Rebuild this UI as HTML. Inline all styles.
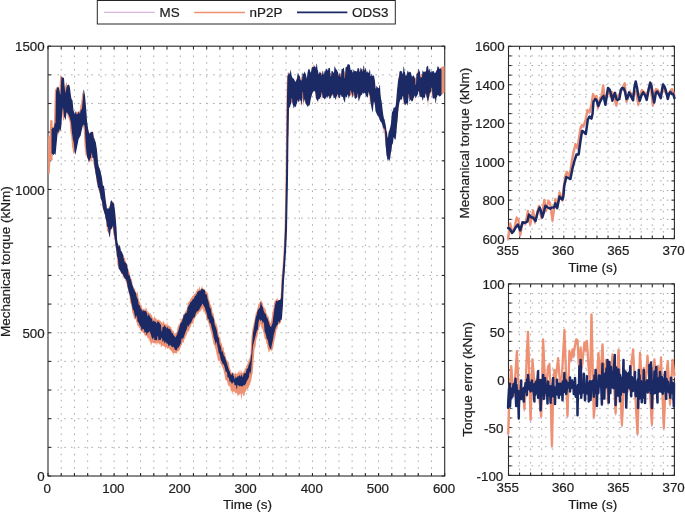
<!DOCTYPE html>
<html><head><meta charset="utf-8"><style>
html,body{margin:0;padding:0;background:#fff;width:685px;height:512px;overflow:hidden}
svg{display:block;will-change:transform}
text{font-family:"Liberation Sans", sans-serif;fill:#1e1e1e;stroke:#1e1e1e;stroke-width:0.22px}
</style></head><body>
<svg width="685" height="512" viewBox="0 0 685 512">
<rect width="685" height="512" fill="#fff"/>
<g stroke="#acacac" stroke-width="1" stroke-dasharray="1.6 5.150" stroke-dashoffset="4.250" fill="none"><line x1="61.22" y1="46.2" x2="61.22" y2="476.0"/><line x1="74.45" y1="46.2" x2="74.45" y2="476.0"/><line x1="87.67" y1="46.2" x2="87.67" y2="476.0"/><line x1="100.89" y1="46.2" x2="100.89" y2="476.0"/><line x1="114.12" y1="46.2" x2="114.12" y2="476.0"/><line x1="127.34" y1="46.2" x2="127.34" y2="476.0"/><line x1="140.56" y1="46.2" x2="140.56" y2="476.0"/><line x1="153.79" y1="46.2" x2="153.79" y2="476.0"/><line x1="167.01" y1="46.2" x2="167.01" y2="476.0"/><line x1="180.23" y1="46.2" x2="180.23" y2="476.0"/><line x1="193.46" y1="46.2" x2="193.46" y2="476.0"/><line x1="206.68" y1="46.2" x2="206.68" y2="476.0"/><line x1="219.90" y1="46.2" x2="219.90" y2="476.0"/><line x1="233.13" y1="46.2" x2="233.13" y2="476.0"/><line x1="246.35" y1="46.2" x2="246.35" y2="476.0"/><line x1="259.57" y1="46.2" x2="259.57" y2="476.0"/><line x1="272.80" y1="46.2" x2="272.80" y2="476.0"/><line x1="286.02" y1="46.2" x2="286.02" y2="476.0"/><line x1="299.24" y1="46.2" x2="299.24" y2="476.0"/><line x1="312.47" y1="46.2" x2="312.47" y2="476.0"/><line x1="325.69" y1="46.2" x2="325.69" y2="476.0"/><line x1="338.91" y1="46.2" x2="338.91" y2="476.0"/><line x1="352.14" y1="46.2" x2="352.14" y2="476.0"/><line x1="365.36" y1="46.2" x2="365.36" y2="476.0"/><line x1="378.58" y1="46.2" x2="378.58" y2="476.0"/><line x1="391.81" y1="46.2" x2="391.81" y2="476.0"/><line x1="405.03" y1="46.2" x2="405.03" y2="476.0"/><line x1="418.25" y1="46.2" x2="418.25" y2="476.0"/><line x1="431.48" y1="46.2" x2="431.48" y2="476.0"/></g><g stroke="#acacac" stroke-width="1" stroke-dasharray="1.6 5.165" stroke-dashoffset="4.065" fill="none"><line x1="48.0" y1="447.35" x2="444.7" y2="447.35"/><line x1="48.0" y1="418.69" x2="444.7" y2="418.69"/><line x1="48.0" y1="390.04" x2="444.7" y2="390.04"/><line x1="48.0" y1="361.39" x2="444.7" y2="361.39"/><line x1="48.0" y1="332.73" x2="444.7" y2="332.73"/><line x1="48.0" y1="304.08" x2="444.7" y2="304.08"/><line x1="48.0" y1="275.43" x2="444.7" y2="275.43"/><line x1="48.0" y1="246.77" x2="444.7" y2="246.77"/><line x1="48.0" y1="218.12" x2="444.7" y2="218.12"/><line x1="48.0" y1="189.47" x2="444.7" y2="189.47"/><line x1="48.0" y1="160.81" x2="444.7" y2="160.81"/><line x1="48.0" y1="132.16" x2="444.7" y2="132.16"/><line x1="48.0" y1="103.51" x2="444.7" y2="103.51"/><line x1="48.0" y1="74.85" x2="444.7" y2="74.85"/></g>
<g stroke="#acacac" stroke-width="1" stroke-dasharray="1.6 5.150" stroke-dashoffset="4.250" fill="none"><line x1="519.56" y1="46.3" x2="519.56" y2="238.6"/><line x1="530.62" y1="46.3" x2="530.62" y2="238.6"/><line x1="541.68" y1="46.3" x2="541.68" y2="238.6"/><line x1="552.74" y1="46.3" x2="552.74" y2="238.6"/><line x1="563.80" y1="46.3" x2="563.80" y2="238.6"/><line x1="574.86" y1="46.3" x2="574.86" y2="238.6"/><line x1="585.92" y1="46.3" x2="585.92" y2="238.6"/><line x1="596.98" y1="46.3" x2="596.98" y2="238.6"/><line x1="608.04" y1="46.3" x2="608.04" y2="238.6"/><line x1="619.10" y1="46.3" x2="619.10" y2="238.6"/><line x1="630.16" y1="46.3" x2="630.16" y2="238.6"/><line x1="641.22" y1="46.3" x2="641.22" y2="238.6"/><line x1="652.28" y1="46.3" x2="652.28" y2="238.6"/><line x1="663.34" y1="46.3" x2="663.34" y2="238.6"/></g><g stroke="#acacac" stroke-width="1" stroke-dasharray="1.6 5.165" stroke-dashoffset="4.065" fill="none"><line x1="508.5" y1="228.98" x2="674.4" y2="228.98"/><line x1="508.5" y1="219.37" x2="674.4" y2="219.37"/><line x1="508.5" y1="209.75" x2="674.4" y2="209.75"/><line x1="508.5" y1="200.14" x2="674.4" y2="200.14"/><line x1="508.5" y1="190.52" x2="674.4" y2="190.52"/><line x1="508.5" y1="180.91" x2="674.4" y2="180.91"/><line x1="508.5" y1="171.29" x2="674.4" y2="171.29"/><line x1="508.5" y1="161.68" x2="674.4" y2="161.68"/><line x1="508.5" y1="152.06" x2="674.4" y2="152.06"/><line x1="508.5" y1="142.45" x2="674.4" y2="142.45"/><line x1="508.5" y1="132.83" x2="674.4" y2="132.83"/><line x1="508.5" y1="123.22" x2="674.4" y2="123.22"/><line x1="508.5" y1="113.60" x2="674.4" y2="113.60"/><line x1="508.5" y1="103.99" x2="674.4" y2="103.99"/><line x1="508.5" y1="94.38" x2="674.4" y2="94.38"/><line x1="508.5" y1="84.76" x2="674.4" y2="84.76"/><line x1="508.5" y1="75.14" x2="674.4" y2="75.14"/><line x1="508.5" y1="65.53" x2="674.4" y2="65.53"/><line x1="508.5" y1="55.91" x2="674.4" y2="55.91"/></g>
<g stroke="#acacac" stroke-width="1" stroke-dasharray="1.6 5.150" stroke-dashoffset="4.250" fill="none"><line x1="519.56" y1="283.9" x2="519.56" y2="475.4"/><line x1="530.62" y1="283.9" x2="530.62" y2="475.4"/><line x1="541.68" y1="283.9" x2="541.68" y2="475.4"/><line x1="552.74" y1="283.9" x2="552.74" y2="475.4"/><line x1="563.80" y1="283.9" x2="563.80" y2="475.4"/><line x1="574.86" y1="283.9" x2="574.86" y2="475.4"/><line x1="585.92" y1="283.9" x2="585.92" y2="475.4"/><line x1="596.98" y1="283.9" x2="596.98" y2="475.4"/><line x1="608.04" y1="283.9" x2="608.04" y2="475.4"/><line x1="619.10" y1="283.9" x2="619.10" y2="475.4"/><line x1="630.16" y1="283.9" x2="630.16" y2="475.4"/><line x1="641.22" y1="283.9" x2="641.22" y2="475.4"/><line x1="652.28" y1="283.9" x2="652.28" y2="475.4"/><line x1="663.34" y1="283.9" x2="663.34" y2="475.4"/></g><g stroke="#acacac" stroke-width="1" stroke-dasharray="1.6 5.165" stroke-dashoffset="4.065" fill="none"><line x1="508.5" y1="465.82" x2="674.4" y2="465.82"/><line x1="508.5" y1="456.25" x2="674.4" y2="456.25"/><line x1="508.5" y1="446.67" x2="674.4" y2="446.67"/><line x1="508.5" y1="437.10" x2="674.4" y2="437.10"/><line x1="508.5" y1="427.52" x2="674.4" y2="427.52"/><line x1="508.5" y1="417.95" x2="674.4" y2="417.95"/><line x1="508.5" y1="408.38" x2="674.4" y2="408.38"/><line x1="508.5" y1="398.80" x2="674.4" y2="398.80"/><line x1="508.5" y1="389.22" x2="674.4" y2="389.22"/><line x1="508.5" y1="379.65" x2="674.4" y2="379.65"/><line x1="508.5" y1="370.07" x2="674.4" y2="370.07"/><line x1="508.5" y1="360.50" x2="674.4" y2="360.50"/><line x1="508.5" y1="350.92" x2="674.4" y2="350.92"/><line x1="508.5" y1="341.35" x2="674.4" y2="341.35"/><line x1="508.5" y1="331.77" x2="674.4" y2="331.77"/><line x1="508.5" y1="322.20" x2="674.4" y2="322.20"/><line x1="508.5" y1="312.62" x2="674.4" y2="312.62"/><line x1="508.5" y1="303.05" x2="674.4" y2="303.05"/><line x1="508.5" y1="293.47" x2="674.4" y2="293.47"/></g>
<g stroke="#2a2a2a" stroke-width="1.1" fill="none"><rect x="48.0" y="46.2" width="396.70" height="429.80" fill="none"/><line x1="48.00" y1="476.0" x2="48.00" y2="473.0"/><line x1="48.00" y1="46.2" x2="48.00" y2="49.2"/><line x1="61.22" y1="476.0" x2="61.22" y2="473.0"/><line x1="61.22" y1="46.2" x2="61.22" y2="49.2"/><line x1="74.45" y1="476.0" x2="74.45" y2="473.0"/><line x1="74.45" y1="46.2" x2="74.45" y2="49.2"/><line x1="87.67" y1="476.0" x2="87.67" y2="473.0"/><line x1="87.67" y1="46.2" x2="87.67" y2="49.2"/><line x1="100.89" y1="476.0" x2="100.89" y2="473.0"/><line x1="100.89" y1="46.2" x2="100.89" y2="49.2"/><line x1="114.12" y1="476.0" x2="114.12" y2="473.0"/><line x1="114.12" y1="46.2" x2="114.12" y2="49.2"/><line x1="127.34" y1="476.0" x2="127.34" y2="473.0"/><line x1="127.34" y1="46.2" x2="127.34" y2="49.2"/><line x1="140.56" y1="476.0" x2="140.56" y2="473.0"/><line x1="140.56" y1="46.2" x2="140.56" y2="49.2"/><line x1="153.79" y1="476.0" x2="153.79" y2="473.0"/><line x1="153.79" y1="46.2" x2="153.79" y2="49.2"/><line x1="167.01" y1="476.0" x2="167.01" y2="473.0"/><line x1="167.01" y1="46.2" x2="167.01" y2="49.2"/><line x1="180.23" y1="476.0" x2="180.23" y2="473.0"/><line x1="180.23" y1="46.2" x2="180.23" y2="49.2"/><line x1="193.46" y1="476.0" x2="193.46" y2="473.0"/><line x1="193.46" y1="46.2" x2="193.46" y2="49.2"/><line x1="206.68" y1="476.0" x2="206.68" y2="473.0"/><line x1="206.68" y1="46.2" x2="206.68" y2="49.2"/><line x1="219.90" y1="476.0" x2="219.90" y2="473.0"/><line x1="219.90" y1="46.2" x2="219.90" y2="49.2"/><line x1="233.13" y1="476.0" x2="233.13" y2="473.0"/><line x1="233.13" y1="46.2" x2="233.13" y2="49.2"/><line x1="246.35" y1="476.0" x2="246.35" y2="473.0"/><line x1="246.35" y1="46.2" x2="246.35" y2="49.2"/><line x1="259.57" y1="476.0" x2="259.57" y2="473.0"/><line x1="259.57" y1="46.2" x2="259.57" y2="49.2"/><line x1="272.80" y1="476.0" x2="272.80" y2="473.0"/><line x1="272.80" y1="46.2" x2="272.80" y2="49.2"/><line x1="286.02" y1="476.0" x2="286.02" y2="473.0"/><line x1="286.02" y1="46.2" x2="286.02" y2="49.2"/><line x1="299.24" y1="476.0" x2="299.24" y2="473.0"/><line x1="299.24" y1="46.2" x2="299.24" y2="49.2"/><line x1="312.47" y1="476.0" x2="312.47" y2="473.0"/><line x1="312.47" y1="46.2" x2="312.47" y2="49.2"/><line x1="325.69" y1="476.0" x2="325.69" y2="473.0"/><line x1="325.69" y1="46.2" x2="325.69" y2="49.2"/><line x1="338.91" y1="476.0" x2="338.91" y2="473.0"/><line x1="338.91" y1="46.2" x2="338.91" y2="49.2"/><line x1="352.14" y1="476.0" x2="352.14" y2="473.0"/><line x1="352.14" y1="46.2" x2="352.14" y2="49.2"/><line x1="365.36" y1="476.0" x2="365.36" y2="473.0"/><line x1="365.36" y1="46.2" x2="365.36" y2="49.2"/><line x1="378.58" y1="476.0" x2="378.58" y2="473.0"/><line x1="378.58" y1="46.2" x2="378.58" y2="49.2"/><line x1="391.81" y1="476.0" x2="391.81" y2="473.0"/><line x1="391.81" y1="46.2" x2="391.81" y2="49.2"/><line x1="405.03" y1="476.0" x2="405.03" y2="473.0"/><line x1="405.03" y1="46.2" x2="405.03" y2="49.2"/><line x1="418.25" y1="476.0" x2="418.25" y2="473.0"/><line x1="418.25" y1="46.2" x2="418.25" y2="49.2"/><line x1="431.48" y1="476.0" x2="431.48" y2="473.0"/><line x1="431.48" y1="46.2" x2="431.48" y2="49.2"/><line x1="444.70" y1="476.0" x2="444.70" y2="473.0"/><line x1="444.70" y1="46.2" x2="444.70" y2="49.2"/><line x1="48.0" y1="476.00" x2="51.0" y2="476.00"/><line x1="444.7" y1="476.00" x2="441.7" y2="476.00"/><line x1="48.0" y1="447.35" x2="51.0" y2="447.35"/><line x1="444.7" y1="447.35" x2="441.7" y2="447.35"/><line x1="48.0" y1="418.69" x2="51.0" y2="418.69"/><line x1="444.7" y1="418.69" x2="441.7" y2="418.69"/><line x1="48.0" y1="390.04" x2="51.0" y2="390.04"/><line x1="444.7" y1="390.04" x2="441.7" y2="390.04"/><line x1="48.0" y1="361.39" x2="51.0" y2="361.39"/><line x1="444.7" y1="361.39" x2="441.7" y2="361.39"/><line x1="48.0" y1="332.73" x2="51.0" y2="332.73"/><line x1="444.7" y1="332.73" x2="441.7" y2="332.73"/><line x1="48.0" y1="304.08" x2="51.0" y2="304.08"/><line x1="444.7" y1="304.08" x2="441.7" y2="304.08"/><line x1="48.0" y1="275.43" x2="51.0" y2="275.43"/><line x1="444.7" y1="275.43" x2="441.7" y2="275.43"/><line x1="48.0" y1="246.77" x2="51.0" y2="246.77"/><line x1="444.7" y1="246.77" x2="441.7" y2="246.77"/><line x1="48.0" y1="218.12" x2="51.0" y2="218.12"/><line x1="444.7" y1="218.12" x2="441.7" y2="218.12"/><line x1="48.0" y1="189.47" x2="51.0" y2="189.47"/><line x1="444.7" y1="189.47" x2="441.7" y2="189.47"/><line x1="48.0" y1="160.81" x2="51.0" y2="160.81"/><line x1="444.7" y1="160.81" x2="441.7" y2="160.81"/><line x1="48.0" y1="132.16" x2="51.0" y2="132.16"/><line x1="444.7" y1="132.16" x2="441.7" y2="132.16"/><line x1="48.0" y1="103.51" x2="51.0" y2="103.51"/><line x1="444.7" y1="103.51" x2="441.7" y2="103.51"/><line x1="48.0" y1="74.85" x2="51.0" y2="74.85"/><line x1="444.7" y1="74.85" x2="441.7" y2="74.85"/><line x1="48.0" y1="46.20" x2="51.0" y2="46.20"/><line x1="444.7" y1="46.20" x2="441.7" y2="46.20"/></g>
<g stroke="#2a2a2a" stroke-width="1.1" fill="none"><rect x="508.5" y="46.3" width="165.90" height="192.30" fill="none"/><line x1="508.50" y1="238.6" x2="508.50" y2="235.6"/><line x1="508.50" y1="46.3" x2="508.50" y2="49.3"/><line x1="519.56" y1="238.6" x2="519.56" y2="235.6"/><line x1="519.56" y1="46.3" x2="519.56" y2="49.3"/><line x1="530.62" y1="238.6" x2="530.62" y2="235.6"/><line x1="530.62" y1="46.3" x2="530.62" y2="49.3"/><line x1="541.68" y1="238.6" x2="541.68" y2="235.6"/><line x1="541.68" y1="46.3" x2="541.68" y2="49.3"/><line x1="552.74" y1="238.6" x2="552.74" y2="235.6"/><line x1="552.74" y1="46.3" x2="552.74" y2="49.3"/><line x1="563.80" y1="238.6" x2="563.80" y2="235.6"/><line x1="563.80" y1="46.3" x2="563.80" y2="49.3"/><line x1="574.86" y1="238.6" x2="574.86" y2="235.6"/><line x1="574.86" y1="46.3" x2="574.86" y2="49.3"/><line x1="585.92" y1="238.6" x2="585.92" y2="235.6"/><line x1="585.92" y1="46.3" x2="585.92" y2="49.3"/><line x1="596.98" y1="238.6" x2="596.98" y2="235.6"/><line x1="596.98" y1="46.3" x2="596.98" y2="49.3"/><line x1="608.04" y1="238.6" x2="608.04" y2="235.6"/><line x1="608.04" y1="46.3" x2="608.04" y2="49.3"/><line x1="619.10" y1="238.6" x2="619.10" y2="235.6"/><line x1="619.10" y1="46.3" x2="619.10" y2="49.3"/><line x1="630.16" y1="238.6" x2="630.16" y2="235.6"/><line x1="630.16" y1="46.3" x2="630.16" y2="49.3"/><line x1="641.22" y1="238.6" x2="641.22" y2="235.6"/><line x1="641.22" y1="46.3" x2="641.22" y2="49.3"/><line x1="652.28" y1="238.6" x2="652.28" y2="235.6"/><line x1="652.28" y1="46.3" x2="652.28" y2="49.3"/><line x1="663.34" y1="238.6" x2="663.34" y2="235.6"/><line x1="663.34" y1="46.3" x2="663.34" y2="49.3"/><line x1="674.40" y1="238.6" x2="674.40" y2="235.6"/><line x1="674.40" y1="46.3" x2="674.40" y2="49.3"/><line x1="508.5" y1="238.60" x2="511.5" y2="238.60"/><line x1="674.4" y1="238.60" x2="671.4" y2="238.60"/><line x1="508.5" y1="228.98" x2="511.5" y2="228.98"/><line x1="674.4" y1="228.98" x2="671.4" y2="228.98"/><line x1="508.5" y1="219.37" x2="511.5" y2="219.37"/><line x1="674.4" y1="219.37" x2="671.4" y2="219.37"/><line x1="508.5" y1="209.75" x2="511.5" y2="209.75"/><line x1="674.4" y1="209.75" x2="671.4" y2="209.75"/><line x1="508.5" y1="200.14" x2="511.5" y2="200.14"/><line x1="674.4" y1="200.14" x2="671.4" y2="200.14"/><line x1="508.5" y1="190.52" x2="511.5" y2="190.52"/><line x1="674.4" y1="190.52" x2="671.4" y2="190.52"/><line x1="508.5" y1="180.91" x2="511.5" y2="180.91"/><line x1="674.4" y1="180.91" x2="671.4" y2="180.91"/><line x1="508.5" y1="171.29" x2="511.5" y2="171.29"/><line x1="674.4" y1="171.29" x2="671.4" y2="171.29"/><line x1="508.5" y1="161.68" x2="511.5" y2="161.68"/><line x1="674.4" y1="161.68" x2="671.4" y2="161.68"/><line x1="508.5" y1="152.06" x2="511.5" y2="152.06"/><line x1="674.4" y1="152.06" x2="671.4" y2="152.06"/><line x1="508.5" y1="142.45" x2="511.5" y2="142.45"/><line x1="674.4" y1="142.45" x2="671.4" y2="142.45"/><line x1="508.5" y1="132.83" x2="511.5" y2="132.83"/><line x1="674.4" y1="132.83" x2="671.4" y2="132.83"/><line x1="508.5" y1="123.22" x2="511.5" y2="123.22"/><line x1="674.4" y1="123.22" x2="671.4" y2="123.22"/><line x1="508.5" y1="113.60" x2="511.5" y2="113.60"/><line x1="674.4" y1="113.60" x2="671.4" y2="113.60"/><line x1="508.5" y1="103.99" x2="511.5" y2="103.99"/><line x1="674.4" y1="103.99" x2="671.4" y2="103.99"/><line x1="508.5" y1="94.38" x2="511.5" y2="94.38"/><line x1="674.4" y1="94.38" x2="671.4" y2="94.38"/><line x1="508.5" y1="84.76" x2="511.5" y2="84.76"/><line x1="674.4" y1="84.76" x2="671.4" y2="84.76"/><line x1="508.5" y1="75.14" x2="511.5" y2="75.14"/><line x1="674.4" y1="75.14" x2="671.4" y2="75.14"/><line x1="508.5" y1="65.53" x2="511.5" y2="65.53"/><line x1="674.4" y1="65.53" x2="671.4" y2="65.53"/><line x1="508.5" y1="55.91" x2="511.5" y2="55.91"/><line x1="674.4" y1="55.91" x2="671.4" y2="55.91"/><line x1="508.5" y1="46.30" x2="511.5" y2="46.30"/><line x1="674.4" y1="46.30" x2="671.4" y2="46.30"/></g>
<g stroke="#2a2a2a" stroke-width="1.1" fill="none"><rect x="508.5" y="283.9" width="165.90" height="191.50" fill="none"/><line x1="508.50" y1="475.4" x2="508.50" y2="472.4"/><line x1="508.50" y1="283.9" x2="508.50" y2="286.9"/><line x1="519.56" y1="475.4" x2="519.56" y2="472.4"/><line x1="519.56" y1="283.9" x2="519.56" y2="286.9"/><line x1="530.62" y1="475.4" x2="530.62" y2="472.4"/><line x1="530.62" y1="283.9" x2="530.62" y2="286.9"/><line x1="541.68" y1="475.4" x2="541.68" y2="472.4"/><line x1="541.68" y1="283.9" x2="541.68" y2="286.9"/><line x1="552.74" y1="475.4" x2="552.74" y2="472.4"/><line x1="552.74" y1="283.9" x2="552.74" y2="286.9"/><line x1="563.80" y1="475.4" x2="563.80" y2="472.4"/><line x1="563.80" y1="283.9" x2="563.80" y2="286.9"/><line x1="574.86" y1="475.4" x2="574.86" y2="472.4"/><line x1="574.86" y1="283.9" x2="574.86" y2="286.9"/><line x1="585.92" y1="475.4" x2="585.92" y2="472.4"/><line x1="585.92" y1="283.9" x2="585.92" y2="286.9"/><line x1="596.98" y1="475.4" x2="596.98" y2="472.4"/><line x1="596.98" y1="283.9" x2="596.98" y2="286.9"/><line x1="608.04" y1="475.4" x2="608.04" y2="472.4"/><line x1="608.04" y1="283.9" x2="608.04" y2="286.9"/><line x1="619.10" y1="475.4" x2="619.10" y2="472.4"/><line x1="619.10" y1="283.9" x2="619.10" y2="286.9"/><line x1="630.16" y1="475.4" x2="630.16" y2="472.4"/><line x1="630.16" y1="283.9" x2="630.16" y2="286.9"/><line x1="641.22" y1="475.4" x2="641.22" y2="472.4"/><line x1="641.22" y1="283.9" x2="641.22" y2="286.9"/><line x1="652.28" y1="475.4" x2="652.28" y2="472.4"/><line x1="652.28" y1="283.9" x2="652.28" y2="286.9"/><line x1="663.34" y1="475.4" x2="663.34" y2="472.4"/><line x1="663.34" y1="283.9" x2="663.34" y2="286.9"/><line x1="674.40" y1="475.4" x2="674.40" y2="472.4"/><line x1="674.40" y1="283.9" x2="674.40" y2="286.9"/><line x1="508.5" y1="475.40" x2="511.5" y2="475.40"/><line x1="674.4" y1="475.40" x2="671.4" y2="475.40"/><line x1="508.5" y1="465.82" x2="511.5" y2="465.82"/><line x1="674.4" y1="465.82" x2="671.4" y2="465.82"/><line x1="508.5" y1="456.25" x2="511.5" y2="456.25"/><line x1="674.4" y1="456.25" x2="671.4" y2="456.25"/><line x1="508.5" y1="446.67" x2="511.5" y2="446.67"/><line x1="674.4" y1="446.67" x2="671.4" y2="446.67"/><line x1="508.5" y1="437.10" x2="511.5" y2="437.10"/><line x1="674.4" y1="437.10" x2="671.4" y2="437.10"/><line x1="508.5" y1="427.52" x2="511.5" y2="427.52"/><line x1="674.4" y1="427.52" x2="671.4" y2="427.52"/><line x1="508.5" y1="417.95" x2="511.5" y2="417.95"/><line x1="674.4" y1="417.95" x2="671.4" y2="417.95"/><line x1="508.5" y1="408.38" x2="511.5" y2="408.38"/><line x1="674.4" y1="408.38" x2="671.4" y2="408.38"/><line x1="508.5" y1="398.80" x2="511.5" y2="398.80"/><line x1="674.4" y1="398.80" x2="671.4" y2="398.80"/><line x1="508.5" y1="389.22" x2="511.5" y2="389.22"/><line x1="674.4" y1="389.22" x2="671.4" y2="389.22"/><line x1="508.5" y1="379.65" x2="511.5" y2="379.65"/><line x1="674.4" y1="379.65" x2="671.4" y2="379.65"/><line x1="508.5" y1="370.07" x2="511.5" y2="370.07"/><line x1="674.4" y1="370.07" x2="671.4" y2="370.07"/><line x1="508.5" y1="360.50" x2="511.5" y2="360.50"/><line x1="674.4" y1="360.50" x2="671.4" y2="360.50"/><line x1="508.5" y1="350.92" x2="511.5" y2="350.92"/><line x1="674.4" y1="350.92" x2="671.4" y2="350.92"/><line x1="508.5" y1="341.35" x2="511.5" y2="341.35"/><line x1="674.4" y1="341.35" x2="671.4" y2="341.35"/><line x1="508.5" y1="331.77" x2="511.5" y2="331.77"/><line x1="674.4" y1="331.77" x2="671.4" y2="331.77"/><line x1="508.5" y1="322.20" x2="511.5" y2="322.20"/><line x1="674.4" y1="322.20" x2="671.4" y2="322.20"/><line x1="508.5" y1="312.62" x2="511.5" y2="312.62"/><line x1="674.4" y1="312.62" x2="671.4" y2="312.62"/><line x1="508.5" y1="303.05" x2="511.5" y2="303.05"/><line x1="674.4" y1="303.05" x2="671.4" y2="303.05"/><line x1="508.5" y1="293.47" x2="511.5" y2="293.47"/><line x1="674.4" y1="293.47" x2="671.4" y2="293.47"/><line x1="508.5" y1="283.90" x2="511.5" y2="283.90"/><line x1="674.4" y1="283.90" x2="671.4" y2="283.90"/></g>
<polygon points="47.9,137 49.6,136 50.3,120 52.6,120.5 52.6,160 50.5,160 49.6,174 48.2,174" fill="#ee9173"/>
<polygon points="440,68 444.5,65.6 444.5,92.5 440,96" fill="#ee9173"/>
<polygon points="51.50,128.6 52.00,127.5 52.50,127.2 53.00,127.3 53.50,126.5 54.00,122.6 54.50,102.5 55.00,88.2 55.50,89.8 56.00,88.9 56.50,86.3 57.00,88.0 57.50,89.5 58.00,89.6 58.50,93.4 59.00,93.5 59.50,87.4 60.00,78.5 60.50,73.6 61.00,77.0 61.50,76.1 62.00,77.8 62.50,79.7 63.00,80.9 63.50,82.8 64.00,89.5 64.50,89.0 65.00,86.9 65.50,84.9 66.00,83.8 66.50,81.3 67.00,84.7 67.50,85.6 68.00,85.5 68.50,84.5 69.00,90.8 69.50,94.3 70.00,97.1 70.50,95.6 71.00,96.5 71.50,102.1 72.00,106.6 72.50,111.2 73.00,112.5 73.50,113.1 74.00,113.9 74.50,115.3 75.00,114.1 75.50,114.3 76.00,110.0 76.50,112.7 77.00,111.6 77.50,112.0 78.00,112.1 78.50,112.2 79.00,112.2 79.50,110.9 80.00,109.4 80.50,104.3 81.00,105.0 81.50,100.1 82.00,95.4 82.50,91.4 83.00,93.6 83.50,94.6 84.00,97.4 84.50,103.8 85.00,108.8 85.50,117.2 86.00,122.9 86.50,116.1 87.00,124.2 87.50,126.5 88.00,130.3 88.50,131.8 89.00,133.1 89.50,133.2 90.00,131.9 90.50,133.3 91.00,131.8 91.50,132.7 92.00,130.5 92.50,133.4 93.00,130.6 93.50,136.3 94.00,137.5 94.50,139.2 95.00,138.5 95.50,144.6 96.00,145.9 96.50,148.6 97.00,152.3 97.50,159.0 98.00,163.9 98.50,165.9 99.00,167.4 99.50,168.4 100.00,170.3 100.50,173.1 101.00,175.5 101.50,177.6 102.00,180.7 102.50,184.1 103.00,186.7 103.50,185.3 104.00,187.7 104.50,192.1 105.00,194.6 105.50,199.4 106.00,200.0 106.50,206.8 107.00,209.6 107.50,209.0 108.00,209.3 108.50,207.8 109.00,206.4 109.50,206.5 110.00,204.4 110.50,201.9 111.00,201.6 111.50,201.2 112.00,202.1 112.50,201.4 113.00,202.3 113.50,201.2 114.00,205.0 114.50,208.9 115.00,211.6 115.50,216.5 116.00,223.5 116.50,233.0 117.00,241.0 117.50,242.3 118.00,244.3 118.50,245.6 119.00,246.8 119.50,246.8 120.00,247.5 120.50,247.4 121.00,251.2 121.50,252.3 122.00,253.0 122.50,254.0 123.00,255.4 123.50,254.2 124.00,256.9 124.50,258.0 125.00,257.8 125.50,261.0 126.00,262.1 126.50,264.3 127.00,263.8 127.50,266.4 128.00,269.2 128.50,269.3 129.00,271.9 129.50,272.2 130.00,275.2 130.50,278.0 131.00,279.0 131.50,278.5 132.00,280.0 132.50,285.0 133.00,286.0 133.50,287.5 134.00,287.8 134.50,288.4 135.00,288.9 135.50,291.4 136.00,292.9 136.50,293.5 137.00,290.6 137.50,292.4 138.00,293.5 138.50,298.4 139.00,299.5 139.50,301.7 140.00,302.3 140.50,303.4 141.00,306.5 141.50,304.3 142.00,307.2 142.50,309.5 143.00,308.6 143.50,310.0 144.00,307.4 144.50,310.0 145.00,309.4 145.50,307.0 146.00,310.3 146.50,307.0 147.00,309.9 147.50,310.9 148.00,312.6 148.50,311.0 149.00,313.3 149.50,313.2 150.00,312.7 150.50,313.2 151.00,314.7 151.50,314.8 152.00,315.6 152.50,317.6 153.00,317.5 153.50,318.5 154.00,318.8 154.50,315.1 155.00,318.0 155.50,318.1 156.00,318.1 156.50,320.1 157.00,319.0 157.50,320.0 158.00,320.0 158.50,319.6 159.00,319.2 159.50,320.8 160.00,320.2 160.50,320.7 161.00,322.4 161.50,322.1 162.00,322.6 162.50,324.1 163.00,320.7 163.50,322.1 164.00,321.1 164.50,323.7 165.00,324.1 165.50,323.7 166.00,326.0 166.50,324.5 167.00,321.1 167.50,324.6 168.00,326.1 168.50,324.8 169.00,326.1 169.50,326.0 170.00,326.1 170.50,327.2 171.00,327.1 171.50,328.5 172.00,329.7 172.50,329.9 173.00,331.8 173.50,330.5 174.00,332.9 174.50,333.2 175.00,334.9 175.50,332.8 176.00,332.9 176.50,332.3 177.00,331.6 177.50,327.3 178.00,326.9 178.50,324.4 179.00,324.7 179.50,324.3 180.00,322.2 180.50,321.7 181.00,320.1 181.50,319.0 182.00,318.2 182.50,318.2 183.00,316.6 183.50,314.8 184.00,313.7 184.50,313.3 185.00,312.1 185.50,311.0 186.00,310.2 186.50,309.9 187.00,307.7 187.50,307.0 188.00,300.5 188.50,302.9 189.00,301.9 189.50,301.3 190.00,299.8 190.50,299.1 191.00,298.6 191.50,297.5 192.00,296.8 192.50,296.2 193.00,295.4 193.50,295.7 194.00,293.7 194.50,294.1 195.00,294.1 195.50,292.8 196.00,291.6 196.50,290.3 197.00,291.5 197.50,288.6 198.00,288.4 198.50,289.7 199.00,288.9 199.50,285.5 200.00,288.7 200.50,289.6 201.00,288.2 201.50,288.5 202.00,284.7 202.50,288.2 203.00,289.1 203.50,288.7 204.00,289.2 204.50,290.1 205.00,288.3 205.50,291.5 206.00,291.0 206.50,291.7 207.00,292.4 207.50,293.5 208.00,292.8 208.50,297.4 209.00,299.9 209.50,300.3 210.00,302.7 210.50,304.6 211.00,305.2 211.50,306.8 212.00,307.6 212.50,312.6 213.00,313.8 213.50,312.9 214.00,317.0 214.50,319.3 215.00,320.1 215.50,322.9 216.00,324.1 216.50,322.9 217.00,327.6 217.50,325.8 218.00,331.4 218.50,333.1 219.00,336.2 219.50,337.4 220.00,336.1 220.50,340.0 221.00,343.6 221.50,342.8 222.00,344.0 222.50,347.3 223.00,348.8 223.50,345.4 224.00,352.1 224.50,352.9 225.00,351.3 225.50,356.6 226.00,357.3 226.50,359.5 227.00,360.0 227.50,362.3 228.00,362.0 228.50,361.7 229.00,363.1 229.50,367.2 230.00,368.8 230.50,369.8 231.00,372.4 231.50,372.5 232.00,373.1 232.50,373.3 233.00,373.1 233.50,374.3 234.00,372.5 234.50,373.9 235.00,374.2 235.50,371.6 236.00,373.8 236.50,374.5 237.00,372.7 237.50,374.0 238.00,371.7 238.50,370.8 239.00,373.4 239.50,372.3 240.00,369.1 240.50,372.7 241.00,373.3 241.50,369.3 242.00,372.7 242.50,373.0 243.00,372.2 243.50,371.9 244.00,371.0 244.50,370.6 245.00,368.0 245.50,368.5 246.00,367.5 246.50,365.6 247.00,364.7 247.50,364.3 248.00,361.1 248.50,362.5 249.00,357.3 249.50,360.3 250.00,355.5 250.50,354.2 251.00,344.2 251.50,336.5 252.00,332.9 252.50,328.3 253.00,327.1 253.50,324.5 254.00,322.0 254.50,320.1 255.00,317.6 255.50,314.3 256.00,312.4 256.50,311.9 257.00,310.5 257.50,308.1 258.00,306.5 258.50,302.7 259.00,305.1 259.50,302.5 260.00,301.6 260.50,301.4 261.00,299.4 261.50,301.5 262.00,302.1 262.50,302.5 263.00,303.9 263.50,306.7 264.00,307.7 264.50,307.0 265.00,309.9 265.50,307.4 266.00,312.1 266.50,312.9 267.00,314.6 267.50,315.5 268.00,317.2 268.50,315.1 269.00,319.7 269.50,320.5 270.00,321.6 270.50,323.5 271.00,322.2 271.50,319.1 272.00,316.7 272.50,312.1 273.00,309.9 273.50,307.7 274.00,303.5 274.50,301.8 275.00,300.6 275.50,300.0 276.00,300.3 276.50,298.2 277.00,300.1 277.50,297.3 278.00,300.2 278.50,299.6 279.00,299.8 279.50,301.1 280.00,299.8 280.50,297.9 281.00,289.9 281.50,278.9 282.00,274.1 282.50,267.3 283.00,259.6 283.50,252.2 284.00,240.8 284.50,229.8 285.00,205.3 285.50,179.0 286.00,136.1 286.50,93.3 287.00,76.7 287.50,76.0 288.00,71.5 288.50,75.7 289.00,80.7 289.50,72.7 290.00,72.8 290.50,72.5 291.00,75.0 291.50,76.6 292.00,77.8 292.50,82.3 293.00,81.0 293.50,81.5 294.00,85.6 294.50,85.1 295.00,83.4 295.50,82.4 296.00,82.1 296.50,80.3 297.00,79.7 297.50,78.4 298.00,76.4 298.50,73.3 299.00,75.2 299.50,79.0 300.00,79.5 300.50,80.4 301.00,77.5 301.50,76.1 302.00,76.8 302.50,77.2 303.00,79.4 303.50,74.9 304.00,77.4 304.50,77.0 305.00,74.4 305.50,77.1 306.00,75.9 306.50,76.8 307.00,79.1 307.50,76.4 308.00,72.8 308.50,73.3 309.00,71.6 309.50,71.4 310.00,72.0 310.50,73.4 311.00,76.0 311.50,72.3 312.00,64.8 312.50,67.2 313.00,68.2 313.50,63.6 314.00,65.8 314.50,67.8 315.00,70.3 315.50,70.6 316.00,69.0 316.50,70.4 317.00,71.8 317.50,72.1 318.00,72.3 318.50,83.5 319.00,73.9 319.50,76.1 320.00,74.6 320.50,70.0 321.00,77.1 321.50,72.6 322.00,72.9 322.50,72.6 323.00,73.8 323.50,74.3 324.00,73.1 324.50,73.2 325.00,75.3 325.50,75.2 326.00,72.0 326.50,70.4 327.00,70.3 327.50,72.1 328.00,70.2 328.50,70.9 329.00,72.4 329.50,73.1 330.00,73.5 330.50,73.0 331.00,72.9 331.50,76.3 332.00,78.1 332.50,75.2 333.00,75.7 333.50,78.3 334.00,73.5 334.50,76.9 335.00,73.2 335.50,71.8 336.00,75.3 336.50,72.3 337.00,73.1 337.50,75.6 338.00,73.5 338.50,73.8 339.00,75.6 339.50,73.8 340.00,74.2 340.50,74.2 341.00,73.1 341.50,72.5 342.00,73.2 342.50,76.8 343.00,72.3 343.50,70.6 344.00,72.0 344.50,71.1 345.00,71.7 345.50,74.6 346.00,70.2 346.50,69.1 347.00,68.3 347.50,68.0 348.00,69.2 348.50,69.4 349.00,66.9 349.50,68.4 350.00,68.7 350.50,72.8 351.00,72.0 351.50,70.7 352.00,71.3 352.50,73.0 353.00,72.1 353.50,78.7 354.00,74.6 354.50,80.5 355.00,75.2 355.50,74.1 356.00,73.9 356.50,73.4 357.00,73.3 357.50,75.1 358.00,72.6 358.50,72.9 359.00,72.7 359.50,71.3 360.00,70.6 360.50,70.6 361.00,74.3 361.50,71.0 362.00,69.3 362.50,69.4 363.00,68.5 363.50,64.7 364.00,70.7 364.50,68.9 365.00,72.0 365.50,70.1 366.00,71.4 366.50,72.6 367.00,74.7 367.50,74.1 368.00,75.3 368.50,76.9 369.00,75.3 369.50,76.4 370.00,75.9 370.50,77.1 371.00,76.8 371.50,76.4 372.00,77.2 372.50,78.4 373.00,77.4 373.50,78.0 374.00,79.5 374.50,81.5 375.00,83.9 375.50,88.0 376.00,87.8 376.50,89.1 377.00,89.2 377.50,89.8 378.00,90.1 378.50,92.0 379.00,91.5 379.50,87.9 380.00,92.1 380.50,97.7 381.00,100.5 381.50,104.6 382.00,108.7 382.50,110.2 383.00,114.6 383.50,117.0 384.00,118.8 384.50,122.5 385.00,123.5 385.50,127.2 386.00,129.4 386.50,132.8 387.00,136.4 387.50,136.3 388.00,141.7 388.50,136.1 389.00,133.7 389.50,127.2 390.00,130.8 390.50,128.8 391.00,125.6 391.50,122.6 392.00,118.8 392.50,113.2 393.00,112.5 393.50,110.7 394.00,111.1 394.50,111.3 395.00,111.2 395.50,107.7 396.00,104.8 396.50,103.1 397.00,89.1 397.50,87.7 398.00,82.8 398.50,77.1 399.00,75.5 399.50,74.7 400.00,73.9 400.50,75.9 401.00,76.0 401.50,75.7 402.00,74.0 402.50,80.5 403.00,73.6 403.50,74.0 404.00,73.9 404.50,74.8 405.00,76.2 405.50,75.9 406.00,77.0 406.50,78.8 407.00,77.0 407.50,74.1 408.00,73.4 408.50,73.6 409.00,73.1 409.50,72.9 410.00,73.5 410.50,77.0 411.00,75.6 411.50,77.4 412.00,79.9 412.50,79.1 413.00,81.4 413.50,82.2 414.00,79.4 414.50,81.6 415.00,79.0 415.50,77.2 416.00,77.7 416.50,75.9 417.00,70.7 417.50,74.1 418.00,68.2 418.50,74.6 419.00,78.2 419.50,74.3 420.00,76.5 420.50,77.0 421.00,73.9 421.50,73.7 422.00,74.2 422.50,74.3 423.00,73.7 423.50,74.1 424.00,69.2 424.50,74.0 425.00,73.0 425.50,73.8 426.00,71.4 426.50,71.8 427.00,69.2 427.50,71.1 428.00,68.0 428.50,71.1 429.00,72.4 429.50,72.5 430.00,74.9 430.50,71.4 431.00,79.0 431.50,72.9 432.00,73.6 432.50,73.5 433.00,73.7 433.50,73.8 434.00,73.9 434.50,75.0 435.00,74.2 435.50,75.6 436.00,79.2 436.50,71.9 437.00,70.4 437.50,71.4 438.00,72.5 438.50,72.6 439.00,72.1 439.50,72.0 440.00,70.2 440.50,71.2 441.00,71.2 441.50,73.4 441.50,91.9 441.00,93.9 440.50,91.4 440.00,91.1 439.50,95.4 439.00,94.8 438.50,94.8 438.00,90.5 437.50,93.4 437.00,95.4 436.50,93.9 436.00,96.3 435.50,96.6 435.00,97.3 434.50,94.9 434.00,94.4 433.50,96.1 433.00,95.7 432.50,94.1 432.00,100.7 431.50,90.4 431.00,92.3 430.50,93.6 430.00,95.0 429.50,96.6 429.00,97.2 428.50,96.5 428.00,108.9 427.50,100.5 427.00,97.9 426.50,95.2 426.00,94.9 425.50,94.3 425.00,94.3 424.50,90.7 424.00,94.8 423.50,93.3 423.00,94.4 422.50,91.1 422.00,93.9 421.50,94.6 421.00,94.2 420.50,92.7 420.00,90.8 419.50,93.5 419.00,90.8 418.50,92.5 418.00,90.5 417.50,92.6 417.00,93.9 416.50,92.7 416.00,95.3 415.50,94.9 415.00,102.2 414.50,91.1 414.00,94.5 413.50,91.8 413.00,102.3 412.50,96.1 412.00,94.8 411.50,95.8 411.00,97.3 410.50,94.0 410.00,96.6 409.50,95.3 409.00,98.9 408.50,98.0 408.00,97.6 407.50,98.0 407.00,99.5 406.50,98.7 406.00,102.6 405.50,101.9 405.00,101.5 404.50,106.8 404.00,100.5 403.50,104.4 403.00,94.0 402.50,92.7 402.00,96.5 401.50,91.8 401.00,96.4 400.50,98.0 400.00,92.6 399.50,100.7 399.00,101.4 398.50,111.7 398.00,110.3 397.50,117.8 397.00,123.9 396.50,126.7 396.00,131.1 395.50,136.0 395.00,136.9 394.50,138.0 394.00,137.7 393.50,136.0 393.00,138.3 392.50,138.4 392.00,145.3 391.50,149.0 391.00,149.6 390.50,155.2 390.00,157.9 389.50,158.1 389.00,156.6 388.50,159.2 388.00,158.6 387.50,154.4 387.00,155.0 386.50,152.3 386.00,148.7 385.50,142.9 385.00,139.6 384.50,134.1 384.00,132.2 383.50,130.9 383.00,124.8 382.50,123.0 382.00,122.2 381.50,119.9 381.00,117.5 380.50,118.3 380.00,115.6 379.50,112.7 379.00,114.3 378.50,110.5 378.00,112.5 377.50,111.3 377.00,111.9 376.50,110.8 376.00,109.9 375.50,108.2 375.00,104.5 374.50,100.5 374.00,100.5 373.50,104.6 373.00,105.5 372.50,109.6 372.00,106.6 371.50,105.2 371.00,101.6 370.50,98.5 370.00,105.3 369.50,96.8 369.00,94.4 368.50,93.7 368.00,90.3 367.50,94.5 367.00,94.5 366.50,92.4 366.00,89.7 365.50,89.3 365.00,86.5 364.50,90.4 364.00,91.6 363.50,89.9 363.00,92.4 362.50,93.3 362.00,94.3 361.50,88.0 361.00,95.1 360.50,96.7 360.00,95.2 359.50,98.6 359.00,98.1 358.50,99.2 358.00,97.8 357.50,97.2 357.00,96.6 356.50,96.5 356.00,97.1 355.50,96.5 355.00,96.5 354.50,95.7 354.00,95.1 353.50,96.4 353.00,94.7 352.50,96.2 352.00,96.4 351.50,94.6 351.00,95.7 350.50,95.4 350.00,95.5 349.50,95.8 349.00,96.6 348.50,94.7 348.00,94.1 347.50,95.4 347.00,94.4 346.50,94.7 346.00,95.4 345.50,94.4 345.00,95.9 344.50,95.7 344.00,95.0 343.50,94.3 343.00,94.2 342.50,93.6 342.00,93.3 341.50,93.8 341.00,87.9 340.50,93.6 340.00,93.9 339.50,90.1 339.00,95.1 338.50,94.5 338.00,101.9 337.50,95.1 337.00,94.2 336.50,95.2 336.00,96.0 335.50,91.0 335.00,97.8 334.50,95.0 334.00,83.4 333.50,96.4 333.00,93.6 332.50,96.0 332.00,96.0 331.50,96.3 331.00,96.1 330.50,95.1 330.00,94.4 329.50,96.2 329.00,95.4 328.50,94.4 328.00,92.1 327.50,94.4 327.00,93.2 326.50,100.5 326.00,95.5 325.50,96.1 325.00,92.4 324.50,94.4 324.00,95.6 323.50,95.3 323.00,94.8 322.50,94.9 322.00,94.4 321.50,94.9 321.00,102.0 320.50,90.9 320.00,96.0 319.50,96.4 319.00,96.2 318.50,96.7 318.00,104.9 317.50,98.3 317.00,98.6 316.50,99.4 316.00,98.6 315.50,98.0 315.00,89.0 314.50,89.8 314.00,88.1 313.50,89.8 313.00,89.8 312.50,91.4 312.00,92.8 311.50,94.3 311.00,95.2 310.50,96.6 310.00,106.0 309.50,103.0 309.00,101.2 308.50,102.1 308.00,103.6 307.50,103.6 307.00,104.8 306.50,104.1 306.00,103.7 305.50,103.5 305.00,99.0 304.50,101.1 304.00,100.5 303.50,106.7 303.00,97.7 302.50,99.7 302.00,99.2 301.50,100.7 301.00,107.5 300.50,99.2 300.00,101.6 299.50,101.0 299.00,101.0 298.50,99.2 298.00,101.2 297.50,99.2 297.00,100.2 296.50,98.8 296.00,101.6 295.50,103.0 295.00,105.5 294.50,105.8 294.00,105.2 293.50,99.4 293.00,103.6 292.50,102.3 292.00,102.2 291.50,103.1 291.00,103.6 290.50,104.0 290.00,103.6 289.50,104.1 289.00,108.1 288.50,135.8 288.00,137.2 287.50,179.8 287.00,205.0 286.50,229.8 286.00,242.7 285.50,251.5 285.00,258.3 284.50,265.7 284.00,274.4 283.50,282.3 283.00,292.6 282.50,307.6 282.00,311.3 281.50,317.6 281.00,322.5 280.50,322.3 280.00,324.5 279.50,324.0 279.00,324.3 278.50,324.3 278.00,324.4 277.50,329.4 277.00,328.3 276.50,330.1 276.00,333.7 275.50,336.5 275.00,337.8 274.50,340.4 274.00,343.1 273.50,345.2 273.00,348.0 272.50,349.5 272.00,352.0 271.50,350.3 271.00,351.1 270.50,349.3 270.00,349.9 269.50,351.2 269.00,352.3 268.50,352.4 268.00,348.4 267.50,347.9 267.00,343.3 266.50,344.4 266.00,340.4 265.50,339.3 265.00,339.2 264.50,337.7 264.00,334.7 263.50,332.9 263.00,331.3 262.50,329.7 262.00,327.2 261.50,329.5 261.00,323.7 260.50,323.9 260.00,326.8 259.50,325.2 259.00,329.5 258.50,330.1 258.00,332.6 257.50,336.6 257.00,336.7 256.50,339.3 256.00,341.4 255.50,347.8 255.00,346.8 254.50,349.7 254.00,355.9 253.50,362.1 253.00,369.0 252.50,373.8 252.00,375.7 251.50,378.4 251.00,382.2 250.50,381.3 250.00,386.5 249.50,384.3 249.00,385.8 248.50,388.1 248.00,388.4 247.50,389.2 247.00,389.8 246.50,388.6 246.00,391.3 245.50,391.5 245.00,391.8 244.50,395.9 244.00,395.2 243.50,395.7 243.00,395.5 242.50,392.4 242.00,394.4 241.50,400.6 241.00,396.5 240.50,393.2 240.00,394.0 239.50,394.9 239.00,394.4 238.50,395.9 238.00,394.0 237.50,397.5 237.00,392.5 236.50,392.9 236.00,393.4 235.50,392.8 235.00,393.7 234.50,391.3 234.00,392.0 233.50,391.0 233.00,392.2 232.50,393.7 232.00,391.1 231.50,390.5 231.00,393.2 230.50,388.4 230.00,385.4 229.50,386.2 229.00,387.6 228.50,384.8 228.00,385.6 227.50,383.3 227.00,381.1 226.50,381.1 226.00,379.8 225.50,380.4 225.00,377.7 224.50,374.4 224.00,372.7 223.50,369.9 223.00,369.2 222.50,367.7 222.00,365.9 221.50,366.2 221.00,363.6 220.50,364.7 220.00,361.6 219.50,361.2 219.00,360.0 218.50,360.4 218.00,361.9 217.50,358.0 217.00,354.7 216.50,354.5 216.00,350.5 215.50,348.9 215.00,347.6 214.50,345.4 214.00,344.7 213.50,344.2 213.00,341.2 212.50,339.0 212.00,336.7 211.50,334.0 211.00,331.9 210.50,330.4 210.00,328.1 209.50,326.6 209.00,325.4 208.50,322.4 208.00,321.9 207.50,320.8 207.00,319.8 206.50,318.7 206.00,316.0 205.50,314.5 205.00,314.0 204.50,311.3 204.00,311.4 203.50,313.2 203.00,307.3 202.50,309.9 202.00,308.0 201.50,309.5 201.00,312.6 200.50,310.2 200.00,311.3 199.50,312.2 199.00,312.1 198.50,313.9 198.00,313.6 197.50,314.3 197.00,314.5 196.50,315.5 196.00,316.5 195.50,317.3 195.00,318.4 194.50,319.1 194.00,320.1 193.50,322.8 193.00,324.9 192.50,322.8 192.00,324.0 191.50,323.4 191.00,326.4 190.50,326.4 190.00,328.8 189.50,328.2 189.00,333.1 188.50,330.7 188.00,331.3 187.50,331.2 187.00,333.9 186.50,335.0 186.00,336.4 185.50,336.8 185.00,338.9 184.50,338.9 184.00,340.7 183.50,343.3 183.00,342.6 182.50,342.1 182.00,344.6 181.50,345.2 181.00,345.4 180.50,348.1 180.00,348.8 179.50,350.2 179.00,351.0 178.50,351.9 178.00,350.5 177.50,352.0 177.00,354.8 176.50,352.6 176.00,353.4 175.50,352.9 175.00,352.9 174.50,353.3 174.00,352.8 173.50,356.2 173.00,352.6 172.50,353.7 172.00,351.6 171.50,351.6 171.00,350.5 170.50,349.6 170.00,350.7 169.50,348.9 169.00,348.2 168.50,348.5 168.00,348.2 167.50,348.9 167.00,348.4 166.50,347.3 166.00,346.4 165.50,350.6 165.00,346.4 164.50,347.0 164.00,346.5 163.50,345.9 163.00,345.4 162.50,346.1 162.00,345.5 161.50,347.1 161.00,347.4 160.50,344.6 160.00,343.5 159.50,344.6 159.00,344.8 158.50,343.1 158.00,343.0 157.50,343.2 157.00,346.2 156.50,343.0 156.00,342.4 155.50,345.0 155.00,342.7 154.50,343.7 154.00,342.7 153.50,343.5 153.00,342.8 152.50,342.5 152.00,342.9 151.50,344.2 151.00,345.9 150.50,343.1 150.00,341.4 149.50,339.0 149.00,342.3 148.50,338.0 148.00,338.2 147.50,338.0 147.00,335.8 146.50,335.6 146.00,337.0 145.50,335.8 145.00,335.4 144.50,334.9 144.00,333.3 143.50,333.2 143.00,333.2 142.50,331.6 142.00,332.4 141.50,330.5 141.00,332.2 140.50,329.3 140.00,330.2 139.50,328.0 139.00,327.9 138.50,326.3 138.00,326.1 137.50,325.7 137.00,323.4 136.50,322.2 136.00,320.5 135.50,318.9 135.00,319.1 134.50,319.0 134.00,318.5 133.50,315.9 133.00,313.4 132.50,313.7 132.00,311.2 131.50,305.8 131.00,303.1 130.50,303.7 130.00,302.2 129.50,295.6 129.00,294.1 128.50,291.4 128.00,288.8 127.50,289.0 127.00,285.2 126.50,284.0 126.00,281.3 125.50,281.4 125.00,278.5 124.50,277.5 124.00,276.2 123.50,275.9 123.00,280.3 122.50,274.9 122.00,273.9 121.50,273.4 121.00,273.6 120.50,270.4 120.00,270.9 119.50,268.4 119.00,270.5 118.50,267.0 118.00,265.4 117.50,265.8 117.00,259.4 116.50,254.2 116.00,249.5 115.50,246.7 115.00,243.7 114.50,238.9 114.00,235.9 113.50,235.0 113.00,228.1 112.50,226.8 112.00,230.5 111.50,228.7 111.00,228.4 110.50,230.3 110.00,234.5 109.50,234.3 109.00,234.3 108.50,232.3 108.00,231.4 107.50,232.1 107.00,230.2 106.50,225.8 106.00,219.8 105.50,215.9 105.00,214.2 104.50,213.8 104.00,212.2 103.50,210.2 103.00,209.4 102.50,207.1 102.00,203.3 101.50,200.6 101.00,198.6 100.50,197.2 100.00,195.0 99.50,192.5 99.00,190.5 98.50,190.4 98.00,187.8 97.50,184.8 97.00,181.9 96.50,182.9 96.00,176.2 95.50,173.8 95.00,169.9 94.50,167.7 94.00,165.4 93.50,164.8 93.00,159.0 92.50,157.8 92.00,157.9 91.50,160.5 91.00,161.6 90.50,161.6 90.00,158.3 89.50,159.3 89.00,162.6 88.50,162.1 88.00,159.3 87.50,159.0 87.00,156.4 86.50,153.8 86.00,157.5 85.50,154.2 85.00,149.3 84.50,145.8 84.00,135.3 83.50,127.7 83.00,126.8 82.50,123.9 82.00,124.3 81.50,125.3 81.00,127.1 80.50,128.3 80.00,132.8 79.50,134.2 79.00,135.9 78.50,136.7 78.00,137.5 77.50,139.5 77.00,140.9 76.50,146.1 76.00,145.9 75.50,147.7 75.00,150.3 74.50,152.8 74.00,154.1 73.50,153.6 73.00,152.1 72.50,148.3 72.00,146.2 71.50,139.5 71.00,134.2 70.50,133.4 70.00,125.2 69.50,121.0 69.00,119.7 68.50,116.4 68.00,119.0 67.50,114.6 67.00,113.5 66.50,113.2 66.00,112.5 65.50,114.5 65.00,114.7 64.50,118.7 64.00,119.4 63.50,121.6 63.00,118.9 62.50,116.2 62.00,108.6 61.50,107.4 61.00,110.9 60.50,118.1 60.00,126.6 59.50,132.9 59.00,131.4 58.50,135.5 58.00,133.3 57.50,132.2 57.00,136.5 56.50,134.4 56.00,137.0 55.50,141.1 55.00,145.3 54.50,151.9 54.00,154.3 53.50,153.4 53.00,155.7 52.50,154.4 52.00,156.6 51.50,154.3" fill="#ee9173"/>
<polygon points="51.50,128.9 52.00,128.9 52.50,127.4 53.00,127.4 53.50,128.1 54.00,128.1 54.50,124.2 55.00,122.7 55.50,123.6 56.00,91.6 56.50,90.0 57.00,88.0 57.50,87.2 58.00,86.5 58.50,87.2 59.00,88.4 59.50,90.9 60.00,93.8 60.50,94.8 61.00,82.8 61.50,76.8 62.00,76.8 62.50,77.3 63.00,78.0 63.50,77.5 64.00,78.2 64.50,84.6 65.00,90.1 65.50,93.3 66.00,89.9 66.50,87.2 67.00,86.6 67.50,84.9 68.00,85.0 68.50,84.6 69.00,85.0 69.50,85.8 70.00,88.0 70.50,92.2 71.00,96.2 71.50,98.9 72.00,99.7 72.50,100.2 73.00,105.4 73.50,110.7 74.00,111.5 74.50,113.2 75.00,113.9 75.50,111.6 76.00,111.6 76.50,114.4 77.00,113.9 77.50,114.0 78.00,113.5 78.50,111.6 79.00,111.6 79.50,113.6 80.00,113.6 80.50,111.1 81.00,109.3 81.50,109.9 82.00,108.0 82.50,103.1 83.00,97.9 83.50,89.8 84.00,90.1 84.50,93.0 85.00,95.5 85.50,101.1 86.00,106.8 86.50,113.0 87.00,121.1 87.50,124.5 88.00,128.0 88.50,130.8 89.00,132.8 89.50,133.5 90.00,133.8 90.50,132.2 91.00,132.0 91.50,132.0 92.00,132.0 92.50,131.9 93.00,131.9 93.50,136.1 94.00,138.1 94.50,139.1 95.00,141.1 95.50,141.5 96.00,143.5 96.50,147.2 97.00,150.2 97.50,156.1 98.00,162.6 98.50,165.5 99.00,167.0 99.50,168.2 100.00,169.7 100.50,171.5 101.00,173.5 101.50,175.7 102.00,178.2 102.50,182.7 103.00,186.2 103.50,185.4 104.00,185.9 104.50,190.0 105.00,194.0 105.50,199.6 106.00,202.6 106.50,205.6 107.00,210.1 107.50,207.9 108.00,207.9 108.50,208.7 109.00,208.7 109.50,207.5 110.00,205.5 110.50,202.2 111.00,200.6 111.50,200.5 112.00,200.7 112.50,202.6 113.00,202.8 113.50,203.0 114.00,203.9 114.50,207.3 115.00,210.6 115.50,217.0 116.00,221.5 116.50,228.7 117.00,238.2 117.50,243.0 118.00,243.6 118.50,246.1 119.00,247.1 119.50,244.8 120.00,245.8 120.50,249.6 121.00,251.1 121.50,251.3 122.00,252.3 122.50,253.5 123.00,254.5 123.50,257.7 124.00,259.2 124.50,261.5 125.00,262.5 125.50,262.0 126.00,263.5 126.50,263.2 127.00,264.7 127.50,268.0 128.00,269.5 128.50,273.9 129.00,275.9 129.50,274.5 130.00,276.5 130.50,278.6 131.00,280.6 131.50,281.9 132.00,283.4 132.50,285.5 133.00,286.5 133.50,288.2 134.00,289.7 134.50,290.2 135.00,291.7 135.50,292.0 136.00,293.5 136.50,296.2 137.00,297.7 137.50,298.5 138.00,300.0 138.50,303.8 139.00,305.3 139.50,304.8 140.00,306.3 140.50,307.8 141.00,309.0 141.50,309.4 142.00,309.8 142.50,311.2 143.00,311.6 143.50,310.0 144.00,310.2 144.50,311.0 145.00,311.3 145.50,310.9 146.00,311.1 146.50,312.6 147.00,312.9 147.50,315.9 148.00,316.6 148.50,313.8 149.00,314.5 149.50,315.8 150.00,316.5 150.50,317.3 151.00,318.1 151.50,318.2 152.00,319.0 152.50,321.4 153.00,321.6 153.50,320.5 154.00,320.7 154.50,321.6 155.00,321.8 155.50,321.7 156.00,321.8 156.50,323.3 157.00,323.5 157.50,321.3 158.00,321.6 158.50,321.8 159.00,322.0 159.50,323.0 160.00,323.6 160.50,324.4 161.00,325.1 161.50,331.3 162.00,331.6 162.50,327.1 163.00,327.3 163.50,326.7 164.00,326.8 164.50,324.9 165.00,325.1 165.50,327.0 166.00,327.1 166.50,328.4 167.00,328.5 167.50,326.8 168.00,327.2 168.50,328.9 169.00,329.3 169.50,328.5 170.00,328.9 170.50,330.1 171.00,330.7 171.50,332.3 172.00,332.9 172.50,332.9 173.00,333.9 173.50,334.9 174.00,335.9 174.50,336.1 175.00,337.1 175.50,337.5 176.00,336.5 176.50,335.6 177.00,334.6 177.50,333.1 178.00,331.4 178.50,330.3 179.00,328.6 179.50,326.4 180.00,324.8 180.50,323.6 181.00,322.6 181.50,322.4 182.00,321.4 182.50,319.6 183.00,318.4 183.50,315.5 184.00,314.3 184.50,315.1 185.00,313.9 185.50,313.3 186.00,312.5 186.50,313.1 187.00,312.3 187.50,308.0 188.00,306.6 188.50,306.3 189.00,304.9 189.50,304.6 190.00,303.2 190.50,302.2 191.00,301.4 191.50,301.5 192.00,300.7 192.50,299.4 193.00,298.8 193.50,299.2 194.00,298.6 194.50,296.7 195.00,296.1 195.50,295.9 196.00,295.1 196.50,294.2 197.00,293.4 197.50,292.0 198.00,291.6 198.50,291.2 199.00,290.8 199.50,290.8 200.00,290.4 200.50,290.4 201.00,290.2 201.50,288.8 202.00,288.6 202.50,288.8 203.00,289.1 203.50,289.7 204.00,290.0 204.50,289.7 205.00,290.5 205.50,294.1 206.00,294.8 206.50,294.1 207.00,295.6 207.50,298.5 208.00,300.1 208.50,302.0 209.00,303.6 209.50,306.4 210.00,307.9 210.50,307.9 211.00,310.1 211.50,312.9 212.00,315.2 212.50,315.8 213.00,317.5 213.50,317.5 214.00,319.3 214.50,324.0 215.00,325.6 215.50,326.4 216.00,328.0 216.50,329.4 217.00,331.4 217.50,335.1 218.00,337.1 218.50,337.4 219.00,339.0 219.50,343.5 220.00,345.1 220.50,345.5 221.00,347.1 221.50,350.7 222.00,352.4 222.50,350.4 223.00,352.1 223.50,354.4 224.00,356.1 224.50,356.0 225.00,357.4 225.50,359.0 226.00,360.5 226.50,362.0 227.00,363.5 227.50,365.4 228.00,366.8 228.50,368.5 229.00,370.0 229.50,370.9 230.00,371.9 230.50,373.8 231.00,374.8 231.50,374.4 232.00,374.8 232.50,372.5 233.00,372.8 233.50,375.9 234.00,376.0 234.50,378.9 235.00,379.1 235.50,376.6 236.00,376.7 236.50,377.9 237.00,377.7 237.50,376.3 238.00,376.1 238.50,376.4 239.00,376.2 239.50,375.2 240.00,375.1 240.50,376.6 241.00,376.5 241.50,374.6 242.00,374.4 242.50,377.0 243.00,376.9 243.50,373.9 244.00,373.4 244.50,373.3 245.00,372.8 245.50,373.2 246.00,372.2 246.50,369.5 247.00,368.4 247.50,368.8 248.00,367.8 248.50,365.6 249.00,364.4 249.50,362.9 250.00,361.7 250.50,359.9 251.00,356.7 251.50,353.6 252.00,346.6 252.50,339.4 253.00,332.4 253.50,330.8 254.00,328.0 254.50,324.4 255.00,321.7 255.50,318.6 256.00,316.4 256.50,315.6 257.00,313.3 257.50,310.9 258.00,309.2 258.50,309.7 259.00,307.9 259.50,308.3 260.00,307.3 260.50,302.7 261.00,301.7 261.50,304.2 262.00,305.7 262.50,306.5 263.00,307.8 263.50,310.3 264.00,311.5 264.50,312.5 265.00,313.7 265.50,313.4 266.00,314.7 266.50,316.7 267.00,317.9 267.50,318.3 268.00,319.6 268.50,321.6 269.00,322.8 269.50,324.5 270.00,325.7 270.50,326.8 271.00,327.3 271.50,325.7 272.00,324.7 272.50,323.3 273.00,319.3 273.50,315.1 274.00,312.1 274.50,307.9 275.00,304.9 275.50,303.3 276.00,301.3 276.50,300.7 277.00,300.7 277.50,301.3 278.00,301.3 278.50,300.0 279.00,300.3 279.50,299.8 280.00,300.0 280.50,299.4 281.00,297.9 281.50,288.8 282.00,279.8 282.50,274.0 283.00,267.5 283.50,260.6 284.00,253.1 284.50,240.6 285.00,229.6 285.50,205.3 286.00,180.3 286.50,138.8 287.00,95.4 287.50,76.1 288.00,75.1 288.50,73.5 289.00,71.9 289.50,74.5 290.00,73.6 290.50,69.6 291.00,71.3 291.50,75.0 292.00,76.8 292.50,77.4 293.00,78.8 293.50,78.3 294.00,78.9 294.50,80.3 295.00,81.0 295.50,82.1 296.00,80.9 296.50,79.6 297.00,78.2 297.50,74.3 298.00,72.5 298.50,74.3 299.00,75.7 299.50,75.4 300.00,76.8 300.50,80.2 301.00,79.3 301.50,80.7 302.00,80.7 302.50,73.3 303.00,72.5 303.50,74.3 304.00,73.6 304.50,71.4 305.00,72.3 305.50,73.7 306.00,74.6 306.50,78.4 307.00,77.6 307.50,72.7 308.00,70.8 308.50,69.0 309.00,68.7 309.50,69.5 310.00,70.4 310.50,72.4 311.00,72.3 311.50,69.3 312.00,67.2 312.50,67.2 313.00,66.7 313.50,67.1 314.00,67.2 314.50,65.7 315.00,65.8 315.50,67.2 316.00,67.7 316.50,63.5 317.00,64.2 317.50,69.6 318.00,70.4 318.50,73.8 319.00,74.3 319.50,71.7 320.00,72.2 320.50,72.9 321.00,72.4 321.50,75.6 322.00,75.1 322.50,71.2 323.00,70.7 323.50,74.2 324.00,74.7 324.50,71.0 325.00,71.5 325.50,70.6 326.00,69.6 326.50,69.2 327.00,68.2 327.50,70.2 328.00,70.7 328.50,67.7 329.00,68.2 329.50,67.8 330.00,68.3 330.50,76.2 331.00,76.5 331.50,70.9 332.00,71.2 332.50,71.2 333.00,71.5 333.50,72.9 334.00,72.2 334.50,66.8 335.00,66.1 335.50,68.5 336.00,68.8 336.50,69.8 337.00,70.0 337.50,71.5 338.00,72.0 338.50,75.7 339.00,76.2 339.50,73.0 340.00,72.8 340.50,77.1 341.00,76.9 341.50,69.4 342.00,68.7 342.50,69.2 343.00,68.4 343.50,67.8 344.00,68.1 344.50,77.9 345.00,78.1 345.50,67.7 346.00,67.0 346.50,67.0 347.00,66.2 347.50,64.6 348.00,64.1 348.50,64.5 349.00,64.0 349.50,64.8 350.00,65.8 350.50,69.6 351.00,70.6 351.50,69.8 352.00,70.3 352.50,72.2 353.00,72.7 353.50,69.6 354.00,70.1 354.50,70.9 355.00,71.4 355.50,71.1 356.00,70.8 356.50,71.6 357.00,71.4 357.50,68.5 358.00,68.0 358.50,68.6 359.00,68.1 359.50,72.0 360.00,71.7 360.50,68.0 361.00,67.7 361.50,69.4 362.00,68.9 362.50,71.7 363.00,71.2 363.50,65.8 364.00,65.8 364.50,70.3 365.00,70.3 365.50,67.5 366.00,68.8 366.50,72.0 367.00,72.9 367.50,71.0 368.00,71.9 368.50,72.8 369.00,72.7 369.50,69.7 370.00,69.6 370.50,75.8 371.00,76.3 371.50,73.8 372.00,74.1 372.50,76.0 373.00,76.3 373.50,75.3 374.00,75.6 374.50,78.5 375.00,81.3 375.50,88.2 376.00,88.9 376.50,85.7 377.00,86.4 377.50,87.2 378.00,87.8 378.50,88.0 379.00,88.5 379.50,84.8 380.00,85.4 380.50,94.2 381.00,98.4 381.50,100.8 382.00,104.1 382.50,109.5 383.00,112.7 383.50,116.5 384.00,118.8 384.50,119.2 385.00,121.7 385.50,124.0 386.00,127.0 386.50,131.1 387.00,132.2 387.50,136.9 388.00,138.0 388.50,132.7 389.00,131.0 389.50,130.4 390.00,128.6 390.50,126.0 391.00,123.3 391.50,116.8 392.00,111.8 392.50,111.6 393.00,110.9 393.50,107.8 394.00,107.2 394.50,107.9 395.00,106.9 395.50,106.6 396.00,103.1 396.50,97.3 397.00,90.8 397.50,86.4 398.00,80.9 398.50,78.5 399.00,77.0 399.50,71.2 400.00,71.7 400.50,70.8 401.00,70.8 401.50,71.5 402.00,71.3 402.50,74.0 403.00,73.6 403.50,66.5 404.00,66.7 404.50,71.5 405.00,72.2 405.50,75.3 406.00,76.1 406.50,75.0 407.00,73.4 407.50,71.0 408.00,70.4 408.50,72.6 409.00,72.2 409.50,71.8 410.00,72.4 410.50,71.5 411.00,73.1 411.50,75.0 412.00,76.8 412.50,76.2 413.00,75.9 413.50,75.4 414.00,75.2 414.50,77.9 415.00,77.4 415.50,84.9 416.00,84.5 416.50,74.3 417.00,73.4 417.50,73.3 418.00,72.5 418.50,69.0 419.00,69.2 419.50,71.5 420.00,71.7 420.50,77.8 421.00,77.5 421.50,77.3 422.00,77.1 422.50,70.4 423.00,70.7 423.50,72.0 424.00,72.3 424.50,72.0 425.00,71.0 425.50,72.1 426.00,71.1 426.50,66.9 427.00,66.4 427.50,66.0 428.00,65.5 428.50,69.8 429.00,71.3 429.50,68.8 430.00,68.8 430.50,72.3 431.00,72.8 431.50,71.0 432.00,71.5 432.50,71.2 433.00,71.4 433.50,71.1 434.00,71.3 434.50,73.1 435.00,73.3 435.50,72.6 436.00,71.6 436.50,70.4 437.00,69.4 437.50,66.3 438.00,66.6 438.50,67.1 439.00,67.5 439.50,68.9 440.00,68.9 440.50,68.4 441.00,68.4 441.50,69.9 441.50,94.5 441.00,95.4 440.50,95.9 440.00,96.2 439.50,96.7 439.00,95.8 438.50,95.5 438.00,95.3 437.50,95.0 437.00,97.0 436.50,97.5 436.00,102.7 435.50,103.2 435.00,98.6 434.50,98.3 434.00,99.0 433.50,98.7 433.00,97.8 432.50,97.5 432.00,87.9 431.50,87.4 431.00,92.4 430.50,91.9 430.00,92.8 429.50,94.1 429.00,97.8 428.50,99.8 428.00,102.0 427.50,100.5 427.00,98.2 426.50,96.7 426.00,93.4 425.50,93.2 425.00,97.9 424.50,97.7 424.00,97.4 423.50,97.4 423.00,100.4 422.50,100.4 422.00,97.5 421.50,97.3 421.00,96.9 420.50,96.7 420.00,96.7 419.50,96.4 419.00,91.3 418.50,91.1 418.00,94.2 417.50,94.9 417.00,95.7 416.50,96.4 416.00,97.9 415.50,98.1 415.00,95.7 414.50,95.8 414.00,97.6 413.50,98.0 413.00,100.6 412.50,101.0 412.00,101.5 411.50,101.5 411.00,99.7 410.50,99.8 410.00,100.9 409.50,101.4 409.00,94.2 408.50,93.9 408.00,105.2 407.50,105.2 407.00,102.6 406.50,104.2 406.00,103.8 405.50,104.9 405.00,105.3 404.50,104.1 404.00,102.6 403.50,99.0 403.00,95.5 402.50,96.8 402.00,99.3 401.50,100.0 401.00,99.2 400.50,99.6 400.00,100.7 399.50,102.2 399.00,105.6 398.50,108.1 398.00,114.4 397.50,120.4 397.00,125.1 396.50,131.1 396.00,135.9 395.50,139.9 395.00,139.1 394.50,139.4 394.00,137.1 393.50,137.8 393.00,143.2 392.50,143.8 392.00,145.0 391.50,149.5 391.00,152.2 390.50,154.8 390.00,159.8 389.50,160.4 389.00,159.0 388.50,159.6 388.00,161.4 387.50,159.7 387.00,157.1 386.50,155.5 386.00,149.2 385.50,144.5 385.00,131.7 384.50,128.3 384.00,129.8 383.50,127.0 383.00,129.1 382.50,125.4 382.00,124.1 381.50,122.4 381.00,122.3 380.50,121.5 380.00,120.4 379.50,119.4 379.00,117.2 378.50,116.3 378.00,116.3 377.50,115.4 377.00,114.4 376.50,113.4 376.00,112.2 375.50,111.2 375.00,105.6 374.50,103.1 374.00,101.1 373.50,103.8 373.00,110.0 372.50,112.7 372.00,110.0 371.50,107.7 371.00,105.1 370.50,103.1 370.00,95.9 369.50,94.7 369.00,92.9 368.50,91.6 368.00,97.4 367.50,97.4 367.00,96.4 366.50,96.4 366.00,96.4 365.50,95.0 365.00,92.6 364.50,93.1 364.00,93.6 363.50,94.1 363.00,92.2 362.50,93.0 362.00,94.4 361.50,95.2 361.00,95.0 360.50,96.0 360.00,98.0 359.50,99.0 359.00,101.6 358.50,100.8 358.00,94.0 357.50,93.3 357.00,97.5 356.50,97.8 356.00,98.8 355.50,99.1 355.00,98.2 354.50,97.7 354.00,92.2 353.50,91.7 353.00,97.1 352.50,97.4 352.00,93.3 351.50,93.5 351.00,90.6 350.50,90.6 350.00,95.8 349.50,95.8 349.00,98.5 348.50,98.0 348.00,94.7 347.50,94.2 347.00,97.3 346.50,97.5 346.00,96.5 345.50,96.7 345.00,102.4 344.50,102.2 344.00,100.3 343.50,100.0 343.00,97.1 342.50,96.8 342.00,97.0 341.50,96.7 341.00,94.5 340.50,95.0 340.00,97.8 339.50,98.3 339.00,97.7 338.50,97.4 338.00,94.3 337.50,94.1 337.00,96.0 336.50,96.8 336.00,99.1 335.50,99.9 335.00,98.0 334.50,97.5 334.00,98.2 333.50,97.7 333.00,94.0 332.50,94.2 332.00,95.2 331.50,95.3 331.00,97.8 330.50,98.0 330.00,99.2 329.50,98.8 329.00,96.1 328.50,95.8 328.00,97.9 327.50,97.6 327.00,96.2 326.50,96.7 326.00,97.7 325.50,98.2 325.00,99.4 324.50,98.9 324.00,98.5 323.50,98.0 323.00,97.8 322.50,97.9 322.00,92.2 321.50,92.4 321.00,96.9 320.50,97.1 320.00,98.5 319.50,99.0 319.00,98.8 318.50,99.3 318.00,101.0 317.50,101.5 317.00,99.6 316.50,100.1 316.00,97.5 315.50,93.3 315.00,91.4 314.50,90.8 314.00,91.8 313.50,91.3 313.00,91.9 312.50,92.9 312.00,94.6 311.50,96.5 311.00,98.2 310.50,100.3 310.00,103.6 309.50,105.5 309.00,105.5 308.50,105.8 308.00,106.6 307.50,107.0 307.00,105.3 306.50,105.3 306.00,103.8 305.50,103.4 305.00,99.8 304.50,98.9 304.00,102.5 303.50,101.9 303.00,92.3 302.50,91.8 302.00,103.9 301.50,105.2 301.00,101.1 300.50,100.7 300.00,99.3 299.50,99.0 299.00,102.2 298.50,102.0 298.00,100.3 297.50,100.6 297.00,103.5 296.50,104.2 296.00,106.3 295.50,107.5 295.00,106.3 294.50,106.3 294.00,108.1 293.50,108.1 293.00,104.8 292.50,104.2 292.00,98.3 291.50,98.6 291.00,104.3 290.50,104.6 290.00,107.4 289.50,107.0 289.00,108.6 288.50,133.0 288.00,178.5 287.50,203.5 287.00,230.0 286.50,242.0 286.00,252.0 285.50,259.5 285.00,267.4 284.50,274.9 284.00,280.2 283.50,291.7 283.00,304.3 282.50,310.8 282.00,317.7 281.50,320.2 281.00,319.4 280.50,319.9 280.00,322.6 279.50,322.6 279.00,321.4 278.50,321.4 278.00,324.1 277.50,324.8 277.00,325.6 276.50,326.3 276.00,326.9 275.50,328.4 275.00,330.0 274.50,332.5 274.00,333.6 273.50,336.1 273.00,339.4 272.50,341.9 272.00,344.1 271.50,346.6 271.00,349.6 270.50,349.1 270.00,348.7 269.50,346.9 269.00,345.9 268.50,344.2 268.00,341.1 267.50,339.6 267.00,339.3 266.50,337.8 266.00,335.2 265.50,333.5 265.00,332.5 264.50,330.8 264.00,322.9 263.50,321.4 263.00,324.1 262.50,322.6 262.00,320.8 261.50,319.8 261.00,321.0 260.50,321.3 260.00,319.2 259.50,319.5 259.00,320.6 258.50,322.6 258.00,328.2 257.50,330.2 257.00,330.2 256.50,332.2 256.00,334.0 255.50,336.0 255.00,337.8 254.50,340.3 254.00,341.7 253.50,344.2 253.00,345.3 252.50,351.3 252.00,359.0 251.50,365.0 251.00,371.5 250.50,374.5 250.00,371.3 249.50,372.8 249.00,376.8 248.50,378.2 248.00,378.8 247.50,379.9 247.00,380.9 246.50,381.5 246.00,383.5 245.50,383.9 245.00,385.0 244.50,385.6 244.00,384.7 243.50,385.3 243.00,385.9 242.50,386.3 242.00,386.4 241.50,386.7 241.00,385.9 240.50,385.8 240.00,386.4 239.50,386.3 239.00,385.8 238.50,385.6 238.00,384.8 237.50,384.7 237.00,388.9 236.50,388.7 236.00,385.1 235.50,385.0 235.00,385.4 234.50,385.3 234.00,382.1 233.50,381.8 233.00,383.5 232.50,383.1 232.00,383.7 231.50,383.2 231.00,382.0 230.50,381.5 230.00,381.7 229.50,381.2 229.00,378.2 228.50,377.3 228.00,378.1 227.50,377.1 227.00,372.8 226.50,371.5 226.00,372.6 225.50,371.2 225.00,368.7 224.50,367.1 224.00,365.2 223.50,364.1 223.00,364.7 222.50,363.6 222.00,362.3 221.50,361.2 221.00,360.0 220.50,358.8 220.00,355.4 219.50,353.8 219.00,353.7 218.50,352.1 218.00,348.5 217.50,346.8 217.00,343.1 216.50,341.5 216.00,345.2 215.50,343.5 215.00,341.5 214.50,339.8 214.00,338.2 213.50,335.9 213.00,333.2 212.50,330.9 212.00,329.3 211.50,327.5 211.00,324.4 210.50,322.7 210.00,324.1 209.50,322.8 209.00,320.1 208.50,318.8 208.00,319.6 207.50,318.3 207.00,314.6 206.50,313.3 206.00,311.4 205.50,310.2 205.00,308.2 204.50,307.0 204.00,306.3 203.50,305.8 203.00,304.1 202.50,303.6 202.00,304.7 201.50,305.4 201.00,306.6 200.50,307.3 200.00,308.1 199.50,308.9 199.00,309.9 198.50,310.7 198.00,310.7 197.50,311.5 197.00,311.3 196.50,311.9 196.00,313.3 195.50,313.9 195.00,316.4 194.50,317.4 194.00,317.1 193.50,318.1 193.00,318.2 192.50,319.2 192.00,320.8 191.50,321.6 191.00,322.9 190.50,323.7 190.00,323.3 189.50,324.3 189.00,326.1 188.50,327.1 188.00,325.0 187.50,326.0 187.00,328.6 186.50,329.6 186.00,331.1 185.50,332.1 185.00,333.5 184.50,334.7 184.00,336.5 183.50,337.7 183.00,338.4 182.50,339.6 182.00,337.8 181.50,338.8 181.00,343.1 180.50,344.1 180.00,345.1 179.50,346.1 179.00,346.7 178.50,347.7 178.00,347.4 177.50,348.1 177.00,350.1 176.50,350.5 176.00,349.9 175.50,350.3 175.00,349.5 174.50,349.1 174.00,347.2 173.50,346.5 173.00,347.6 172.50,347.0 172.00,347.0 171.50,346.6 171.00,345.5 170.50,345.1 170.00,345.4 169.50,345.0 169.00,346.6 168.50,346.2 168.00,343.9 167.50,343.5 167.00,343.8 166.50,343.6 166.00,342.0 165.50,341.8 165.00,343.5 164.50,343.2 164.00,340.8 163.50,340.5 163.00,342.1 162.50,341.8 162.00,338.0 161.50,337.7 161.00,340.1 160.50,339.8 160.00,339.9 159.50,339.7 159.00,340.4 158.50,340.4 158.00,336.3 157.50,336.3 157.00,340.3 156.50,340.3 156.00,340.1 155.50,340.1 155.00,340.3 154.50,340.3 154.00,337.4 153.50,337.4 153.00,339.3 152.50,339.3 152.00,337.9 151.50,337.1 151.00,334.7 150.50,333.9 150.00,331.8 149.50,331.3 149.00,332.4 148.50,331.9 148.00,333.1 147.50,332.6 147.00,335.3 146.50,334.8 146.00,332.2 145.50,331.7 145.00,333.1 144.50,332.6 144.00,329.4 143.50,328.9 143.00,329.3 142.50,328.8 142.00,330.9 141.50,330.4 141.00,327.1 140.50,326.6 140.00,325.7 139.50,324.7 139.00,323.3 138.50,322.3 138.00,322.2 137.50,321.2 137.00,316.2 136.50,315.4 136.00,318.6 135.50,317.4 135.00,316.2 134.50,314.7 134.00,311.4 133.50,309.9 133.00,309.9 132.50,307.9 132.00,306.3 131.50,303.8 131.00,300.3 130.50,298.3 130.00,296.1 129.50,294.1 129.00,292.8 128.50,290.8 128.00,288.3 127.50,286.3 127.00,282.9 126.50,280.7 126.00,279.5 125.50,278.7 125.00,279.2 124.50,278.2 124.00,276.9 123.50,276.4 123.00,274.6 122.50,273.6 122.00,274.0 121.50,273.0 121.00,272.3 120.50,271.3 120.00,270.2 119.50,269.6 119.00,269.1 118.50,267.2 118.00,259.7 117.50,257.2 117.00,256.6 116.50,251.3 116.00,248.2 115.50,244.4 115.00,240.3 114.50,236.8 114.00,234.2 113.50,229.9 113.00,225.4 112.50,226.4 112.00,228.3 111.50,229.2 111.00,228.4 110.50,230.6 110.00,237.1 109.50,236.9 109.00,234.6 108.50,232.3 108.00,227.0 107.50,226.4 107.00,227.2 106.50,221.8 106.00,220.1 105.50,218.6 105.00,215.0 104.50,213.5 104.00,211.4 103.50,209.9 103.00,208.2 102.50,205.2 102.00,201.8 101.50,199.8 101.00,199.4 100.50,196.8 100.00,193.5 99.50,192.0 99.00,188.8 98.50,187.5 98.00,188.3 97.50,184.8 97.00,181.0 96.50,178.5 96.00,176.0 95.50,173.0 95.00,169.8 94.50,166.8 94.00,161.2 93.50,158.0 93.00,157.7 92.50,157.9 92.00,153.2 91.50,153.5 91.00,157.6 90.50,157.9 90.00,159.0 89.50,161.0 89.00,162.5 88.50,160.5 88.00,159.0 87.50,157.8 87.00,157.0 86.50,152.9 86.00,147.2 85.50,140.1 85.00,130.6 84.50,125.5 84.00,125.2 83.50,124.4 83.00,125.3 82.50,126.9 82.00,129.2 81.50,131.3 81.00,133.8 80.50,135.9 80.00,136.5 79.50,137.6 79.00,138.5 78.50,139.6 78.00,142.4 77.50,144.7 77.00,147.4 76.50,149.8 76.00,152.3 75.50,154.8 75.00,153.3 74.50,151.1 74.00,144.8 73.50,141.3 73.00,140.2 72.50,136.2 72.00,133.1 71.50,127.9 71.00,122.4 70.50,120.4 70.00,118.5 69.50,117.1 69.00,115.8 68.50,115.0 68.00,114.1 67.50,113.3 67.00,112.3 66.50,112.5 66.00,116.9 65.50,120.6 65.00,118.4 64.50,117.3 64.00,116.4 63.50,111.6 63.00,107.4 62.50,109.5 62.00,115.7 61.50,124.0 61.00,129.0 60.50,131.4 60.00,129.0 59.50,129.4 59.00,132.5 58.50,132.5 58.00,130.7 57.50,133.9 57.00,139.8 56.50,144.8 56.00,150.3 55.50,155.3 55.00,153.9 54.50,153.4 54.00,154.8 53.50,155.1 53.00,154.4 52.50,154.1 52.00,153.8 51.50,153.4" fill="#1b2a64"/>
<polyline points="508.0,240.1 510.3,224.9 512.0,234.0 514.4,229.5 516.7,219.0 518.5,221.5 520.2,236.5 522.6,223.7 525.5,224.9 527.9,212.5 530.2,226.0 533.1,212.0 534.9,223.7 537.0,215.5 539.0,207.3 541.3,219.0 544.3,201.5 546.0,212.0 548.4,202.0 550.1,204.9 552.5,221.9 555.4,200.3 557.2,208.5 559.5,193.8 562.4,201.5 564.2,185.0 565.5,176.5 567.0,173.5 569.0,177.5 570.5,171.5 572.0,161.5 573.5,153.5 575.5,145.5 577.5,149.5 579.0,139.5 580.5,129.5 582.0,126.5 583.5,127.5 585.5,121.5 587.5,111.5 589.5,113.5 591.5,105.5 593.0,95.5 595.0,99.5 596.5,97.5 597.9,109.3 600.0,99.5 601.5,97.5 603.2,86.9 604.5,98.5 606.0,100.5 607.5,92.5 609.0,94.5 610.5,97.5 612.0,93.5 614.0,98.5 616.4,106.6 618.0,97.5 620.0,94.5 622.0,90.5 624.7,84.7 626.5,103.0 628.0,98.5 630.0,93.5 632.0,96.5 634.0,94.5 636.0,92.5 638.3,105.8 640.0,96.5 642.0,91.5 644.0,93.5 646.0,96.5 648.0,92.5 650.2,83.8 652.8,106.6 654.5,93.5 656.0,90.5 658.0,91.5 660.0,95.5 662.0,93.5 664.0,90.5 666.0,94.5 668.0,97.5 670.0,92.5 672.0,90.5 674.4,96.5" fill="none" stroke="#dab4dd" stroke-width="1.6" stroke-linejoin="round" stroke-linecap="round"/>
<polyline points="508.0,238.6 510.3,223.4 512.0,232.5 514.4,228.0 516.7,217.5 518.5,220.0 520.2,235.0 522.6,222.2 525.5,223.4 527.9,211.0 530.2,224.5 533.1,210.5 534.9,222.2 537.0,214.0 539.0,205.8 541.3,217.5 544.3,200.0 546.0,210.5 548.4,200.5 550.1,203.4 552.5,220.4 555.4,198.8 557.2,207.0 559.5,192.3 562.4,200.0 564.2,183.5 565.5,175.0 567.0,172.0 569.0,176.0 570.5,170.0 572.0,160.0 573.5,152.0 575.5,144.0 577.5,148.0 579.0,138.0 580.5,128.0 582.0,125.0 583.5,126.0 585.5,120.0 587.5,110.0 589.5,112.0 591.5,104.0 593.0,94.0 595.0,98.0 596.5,96.0 597.9,107.8 600.0,98.0 601.5,96.0 603.2,85.4 604.5,97.0 606.0,99.0 607.5,91.0 609.0,93.0 610.5,96.0 612.0,92.0 614.0,97.0 616.4,105.1 618.0,96.0 620.0,93.0 622.0,89.0 624.7,83.2 626.5,101.5 628.0,97.0 630.0,92.0 632.0,95.0 634.0,93.0 636.0,91.0 638.3,104.3 640.0,95.0 642.0,90.0 644.0,92.0 646.0,95.0 648.0,91.0 650.2,82.3 652.8,105.1 654.5,92.0 656.0,89.0 658.0,90.0 660.0,94.0 662.0,92.0 664.0,89.0 666.0,93.0 668.0,96.0 670.0,91.0 672.0,89.0 674.4,95.0" fill="none" stroke="#ee9173" stroke-width="2.3" stroke-linejoin="round" stroke-linecap="round"/>
<polyline points="508.2,228.0 509.7,228.7 512.0,232.8 513.8,231.0 515.6,227.5 517.9,224.5 520.2,230.4 522.6,222.2 524.3,222.8 526.1,222.2 527.3,221.6 529.0,214.6 531.4,217.5 533.1,217.5 535.5,221.0 537.8,211.7 539.6,207.5 540.8,210.5 542.3,217.5 543.7,212.8 545.4,205.8 547.8,207.5 550.1,208.7 551.9,207.5 554.2,207.5 555.4,203.4 557.2,208.1 559.5,196.4 561.3,198.8 562.5,199.5 563.4,196.0 564.2,186.3 566.3,177.0 568.3,178.0 570.4,179.0 572.4,168.8 574.5,160.6 576.5,154.5 578.6,154.5 580.6,140.0 582.1,130.9 583.7,131.9 585.8,134.0 587.8,119.6 589.5,116.5 591.5,118.6 592.5,113.9 593.5,101.6 595.3,99.0 596.6,100.3 598.3,106.0 600.1,101.6 601.9,98.1 603.6,95.9 605.4,104.7 606.7,96.4 608.0,88.0 609.8,89.8 611.1,94.6 612.4,100.8 613.7,95.5 615.0,92.8 616.4,99.0 617.7,99.9 619.4,99.0 620.8,90.2 622.1,88.0 623.8,88.5 625.1,92.0 626.5,99.0 627.3,98.5 629.1,92.4 630.4,94.5 631.5,97.5 633.1,100.3 634.4,87.6 635.7,81.4 637.0,87.6 638.3,95.5 639.7,100.8 641.4,95.5 643.2,92.4 644.9,95.0 646.7,99.9 648.5,90.2 650.2,82.7 651.5,85.8 652.8,95.5 654.2,102.5 655.9,92.8 657.2,91.5 659.0,94.6 660.8,98.1 662.1,89.3 663.0,84.5 664.3,86.3 665.6,89.8 666.9,94.6 667.8,99.0 669.1,93.7 670.4,92.0 671.7,94.0 673.1,93.7 674.4,98.1" fill="none" stroke="#1b2a64" stroke-width="2.5" stroke-linejoin="round" stroke-linecap="round"/>
<polyline points="508.2,435.5 509.5,397.0 511.2,368.2 512.5,386.0 513.8,397.0 515.0,382.0 516.9,353.2 518.2,382.0 519.4,394.0 521.9,399.8 523.0,392.0 524.4,411.0 525.5,392.0 527.0,352.0 528.0,333.9 529.4,382.0 530.6,421.6 532.5,361.4 535.0,394.0 536.5,382.0 538.0,388.0 541.2,418.5 543.1,341.4 545.6,397.0 548.1,368.2 548.8,374.0 549.4,365.8 550.6,395.0 551.9,447.9 553.2,394.0 554.4,372.0 555.6,382.0 558.1,360.1 560.6,392.0 562.0,377.0 564.4,332.0 566.2,382.0 567.5,417.9 569.4,353.0 571.0,362.0 572.5,351.4 573.5,358.0 574.4,350.8 576.2,341.4 577.5,342.0 578.8,367.0 580.6,349.5 581.9,369.5 584.4,344.5 585.5,352.0 586.9,343.0 588.8,372.0 590.0,387.0 591.5,316.4 593.8,418.9 596.0,392.0 598.5,355.0 600.0,387.0 602.5,346.4 604.0,382.0 606.2,362.0 608.1,405.0 610.0,387.0 612.5,356.4 615.6,415.0 618.5,352.0 621.9,427.0 624.0,382.0 625.5,390.0 627.0,380.0 628.5,392.0 630.0,377.0 633.1,351.4 635.0,392.0 637.5,435.8 640.0,355.0 642.0,387.0 643.8,370.0 645.0,392.0 647.5,357.6 649.5,387.0 651.9,426.4 654.4,361.4 656.0,382.0 658.1,368.0 660.0,387.0 661.0,359.5 663.8,430.0 665.5,387.0 667.8,363.2 670.0,406.0 672.5,362.0 674.4,377.0" fill="none" stroke="#dab4dd" stroke-width="1.4" stroke-linejoin="round" stroke-linecap="round"/>
<polyline points="508.2,433.5 509.5,395.0 511.2,366.2 512.5,384.0 513.8,395.0 515.0,380.0 516.9,351.2 518.2,380.0 519.4,392.0 521.9,397.8 523.0,390.0 524.4,409.0 525.5,390.0 527.0,350.0 528.0,331.9 529.4,380.0 530.6,419.6 532.5,359.4 535.0,392.0 536.5,380.0 538.0,386.0 541.2,416.5 543.1,339.4 545.6,395.0 548.1,366.2 548.8,372.0 549.4,363.8 550.6,393.0 551.9,445.9 553.2,392.0 554.4,370.0 555.6,380.0 558.1,358.1 560.6,390.0 562.0,375.0 564.4,330.0 566.2,380.0 567.5,415.9 569.4,351.0 571.0,360.0 572.5,349.4 573.5,356.0 574.4,348.8 576.2,339.4 577.5,340.0 578.8,365.0 580.6,347.5 581.9,367.5 584.4,342.5 585.5,350.0 586.9,341.0 588.8,370.0 590.0,385.0 591.5,314.4 593.8,416.9 596.0,390.0 598.5,353.0 600.0,385.0 602.5,344.4 604.0,380.0 606.2,360.0 608.1,403.0 610.0,385.0 612.5,354.4 615.6,413.0 618.5,350.0 621.9,425.0 624.0,380.0 625.5,388.0 627.0,378.0 628.5,390.0 630.0,375.0 633.1,349.4 635.0,390.0 637.5,433.8 640.0,353.0 642.0,385.0 643.8,368.0 645.0,390.0 647.5,355.6 649.5,385.0 651.9,424.4 654.4,359.4 656.0,380.0 658.1,366.0 660.0,385.0 661.0,357.5 663.8,428.0 665.5,385.0 667.8,361.2 670.0,404.0 672.5,360.0 674.4,375.0" fill="none" stroke="#ee9173" stroke-width="2.3" stroke-linejoin="round" stroke-linecap="round"/>
<polyline points="508.1,407.8 508.3,401.1 509.1,388.5 509.8,400.9 510.0,383.8 510.0,406.5 510.6,394.9 511.3,398.1 512.0,388.5 512.5,396.5 512.8,391.0 513.5,384.3 514.3,392.2 515.0,384.6 515.6,378.8 515.8,396.1 516.2,405.9 516.5,385.1 517.3,399.9 518.0,391.0 518.8,418.4 518.8,409.4 519.5,391.4 520.3,399.1 521.0,385.7 521.2,380.6 521.2,399.0 521.8,394.3 522.5,389.1 523.3,393.7 523.8,401.5 524.0,387.7 524.8,391.2 525.5,383.3 526.3,388.8 526.9,395.2 527.0,379.4 527.8,388.6 528.0,375.0 528.5,380.8 529.3,389.5 530.0,383.1 530.6,391.5 530.8,388.0 531.5,386.0 531.9,380.6 532.3,390.6 533.0,385.2 533.8,393.4 534.4,401.5 534.5,383.9 535.3,395.0 536.0,382.1 536.8,393.1 537.5,379.3 538.1,371.2 538.1,397.8 538.3,387.0 539.0,381.4 539.8,393.1 540.5,379.9 540.6,410.2 541.3,392.5 542.0,380.3 542.8,395.1 543.1,375.0 543.5,380.1 543.8,399.0 544.3,391.2 545.0,378.3 545.8,392.7 546.5,385.5 547.3,397.4 547.5,403.4 548.0,381.5 548.8,393.5 549.5,386.2 550.3,396.7 550.6,402.8 551.0,386.4 551.8,396.2 552.5,386.2 553.1,378.0 553.3,396.2 554.0,386.8 554.8,393.3 555.0,404.0 555.5,387.7 556.3,391.4 557.0,379.7 557.8,394.6 558.5,383.9 558.8,397.8 559.3,390.3 560.0,383.8 560.8,394.5 561.5,383.8 562.3,391.8 562.5,400.2 563.0,381.2 563.8,392.3 564.4,373.1 564.5,378.1 565.3,388.8 566.0,380.6 566.2,394.0 566.8,389.1 567.5,382.7 568.3,387.4 569.0,385.0 569.8,386.0 570.0,377.5 570.0,391.5 570.5,382.2 571.3,388.0 572.0,380.6 572.8,386.7 573.5,382.7 573.8,394.0 574.3,389.4 575.0,378.1 575.8,396.7 576.5,387.1 577.3,394.8 577.5,415.2 578.0,385.1 578.8,393.7 579.4,366.2 579.5,379.4 580.3,386.3 580.6,360.0 581.0,373.5 581.2,397.8 581.8,390.7 582.5,384.1 583.3,392.6 583.8,373.8 584.0,382.1 584.8,394.2 585.0,400.2 585.5,387.1 586.3,392.8 586.9,376.2 587.0,385.2 587.8,393.8 588.5,382.9 588.8,401.5 589.3,395.1 590.0,381.2 590.6,400.0 590.8,395.3 591.5,381.5 592.3,388.7 593.0,380.8 593.8,396.7 594.5,375.4 595.3,392.9 595.6,370.0 596.0,376.9 596.8,390.7 596.9,406.0 597.5,382.8 598.3,393.3 599.0,375.6 599.8,386.2 600.5,376.0 601.3,387.8 601.9,404.4 602.0,378.8 602.5,363.8 602.8,389.2 603.5,377.5 604.3,398.6 605.0,373.7 605.8,387.4 606.5,368.4 607.3,385.9 607.5,360.0 608.0,373.3 608.8,402.5 608.8,387.0 609.4,361.9 609.5,369.1 610.3,393.1 611.0,366.9 611.8,386.9 612.5,373.0 613.3,387.9 614.0,368.3 614.8,355.0 614.8,385.2 615.5,367.4 615.6,405.0 616.2,367.5 616.3,395.8 617.0,374.9 617.8,395.5 618.5,369.5 619.3,383.9 620.0,401.2 620.0,375.1 620.8,395.0 621.5,377.9 622.3,391.4 623.0,378.6 623.5,360.0 623.8,392.1 624.5,370.5 625.3,388.0 626.0,372.6 626.2,407.5 626.8,388.7 627.5,374.1 628.3,387.4 629.0,372.5 629.8,388.5 630.2,366.2 630.5,375.4 631.2,396.2 631.3,387.9 632.0,377.2 632.8,391.1 633.5,378.8 634.3,389.6 635.0,372.0 635.0,385.4 635.8,396.3 636.5,381.9 637.3,394.0 638.0,379.2 638.1,408.0 638.8,370.0 638.8,399.0 639.5,375.3 640.3,398.1 641.0,381.2 641.8,402.3 642.5,382.4 643.3,397.4 643.8,370.0 644.0,376.0 644.8,394.2 645.0,403.0 645.5,383.0 646.3,389.0 647.0,380.5 647.8,392.4 648.5,383.4 649.3,389.9 649.4,365.0 650.0,371.8 650.8,393.1 651.0,362.5 651.5,371.4 651.9,408.0 652.3,395.3 653.0,381.4 653.8,393.5 654.5,371.6 655.3,392.7 656.0,375.6 656.2,366.9 656.8,388.6 657.5,402.5 657.5,380.6 658.3,392.3 659.0,377.8 659.8,391.1 660.0,372.0 660.5,377.6 661.3,391.8 662.0,377.2 662.8,393.8 663.5,379.7 664.3,390.4 665.0,372.0 665.0,383.8 665.8,392.9 666.2,398.8 666.5,379.0 667.3,391.2 668.0,382.1 668.8,392.1 669.5,388.1 670.3,397.8 671.0,377.8 671.8,392.7 672.5,382.8 673.3,392.2 673.8,406.2 674.0,383.4" fill="none" stroke="#1b2a64" stroke-width="2.5" stroke-linejoin="round" stroke-linecap="round"/>
<text x="44.70" y="481.10" text-anchor="end" font-size="13.33">0</text>
<text x="44.70" y="337.83" text-anchor="end" font-size="13.33">500</text>
<text x="44.70" y="194.57" text-anchor="end" font-size="13.33">1000</text>
<text x="44.70" y="51.30" text-anchor="end" font-size="13.33">1500</text>
<text x="47.30" y="492.70" text-anchor="middle" font-size="13.33">0</text>
<text x="113.42" y="492.70" text-anchor="middle" font-size="13.33">100</text>
<text x="179.53" y="492.70" text-anchor="middle" font-size="13.33">200</text>
<text x="245.65" y="492.70" text-anchor="middle" font-size="13.33">300</text>
<text x="311.77" y="492.70" text-anchor="middle" font-size="13.33">400</text>
<text x="377.88" y="492.70" text-anchor="middle" font-size="13.33">500</text>
<text x="444.00" y="492.70" text-anchor="middle" font-size="13.33">600</text>
<text x="247.45" y="508.60" text-anchor="middle" font-size="13.5">Time (s)</text>
<text x="10.40" y="261.70" text-anchor="middle" font-size="13.5" transform="rotate(-90 10.4 261.70000000000005)">Mechanical torque (kNm)</text>
<text x="504.70" y="243.70" text-anchor="end" font-size="13.33">600</text>
<text x="504.70" y="205.24" text-anchor="end" font-size="13.33">800</text>
<text x="504.70" y="166.78" text-anchor="end" font-size="13.33">1000</text>
<text x="504.70" y="128.32" text-anchor="end" font-size="13.33">1200</text>
<text x="504.70" y="89.86" text-anchor="end" font-size="13.33">1400</text>
<text x="504.70" y="51.40" text-anchor="end" font-size="13.33">1600</text>
<text x="507.70" y="255.40" text-anchor="middle" font-size="13.33">355</text>
<text x="563.00" y="255.40" text-anchor="middle" font-size="13.33">360</text>
<text x="618.30" y="255.40" text-anchor="middle" font-size="13.33">365</text>
<text x="673.60" y="255.40" text-anchor="middle" font-size="13.33">370</text>
<text x="592.65" y="272.30" text-anchor="middle" font-size="13.5">Time (s)</text>
<text x="469.30" y="143.15" text-anchor="middle" font-size="13.5" transform="rotate(-90 469.3 143.14999999999998)">Mechanical torque (kNm)</text>
<text x="503.30" y="480.50" text-anchor="end" font-size="13.33">-100</text>
<text x="503.30" y="432.62" text-anchor="end" font-size="13.33">-50</text>
<text x="504.70" y="384.75" text-anchor="end" font-size="13.33">0</text>
<text x="504.70" y="336.88" text-anchor="end" font-size="13.33">50</text>
<text x="504.70" y="289.00" text-anchor="end" font-size="13.33">100</text>
<text x="507.70" y="492.40" text-anchor="middle" font-size="13.33">355</text>
<text x="563.00" y="492.40" text-anchor="middle" font-size="13.33">360</text>
<text x="618.30" y="492.40" text-anchor="middle" font-size="13.33">365</text>
<text x="673.60" y="492.40" text-anchor="middle" font-size="13.33">370</text>
<text x="592.65" y="508.60" text-anchor="middle" font-size="13.5">Time (s)</text>
<text x="471.60" y="379.35" text-anchor="middle" font-size="13.6" transform="rotate(-90 471.6 379.34999999999997)">Torque error (kNm)</text>
<rect x="97.3" y="0.5" width="298" height="23.5" fill="#fff" stroke="#262626" stroke-width="1"/>
<line x1="104" y1="12.3" x2="154.7" y2="12.3" stroke="#dab4dd" stroke-width="1.3"/>
<line x1="194.2" y1="12.4" x2="245" y2="12.4" stroke="#ee9173" stroke-width="1.5"/>
<line x1="297" y1="12.4" x2="347.4" y2="12.4" stroke="#1b2a64" stroke-width="1.6"/>
<text x="159.50" y="17.00" text-anchor="start" font-size="13.4">MS</text>
<text x="249.60" y="17.00" text-anchor="start" font-size="13.4">nP2P</text>
<text x="352.00" y="17.00" text-anchor="start" font-size="13.4">ODS3</text>
</svg></body></html>
